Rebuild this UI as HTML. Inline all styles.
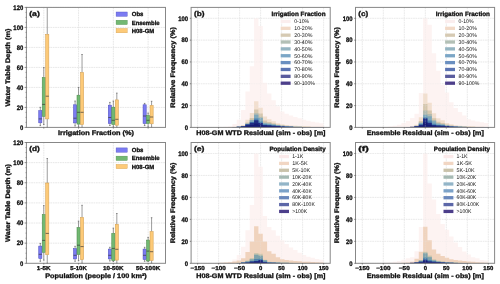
<!DOCTYPE html><html><head><meta charset="utf-8"><style>html,body{margin:0;padding:0;background:#fff;}svg{display:block;will-change:transform;text-rendering:geometricPrecision;}</style></head><body>
<svg width="500" height="284" viewBox="0 0 500 284" font-family='&quot;Liberation Sans&quot;, sans-serif'>
<rect width="500" height="284" fill="#fff"/>
<line x1="26.4" y1="107.4" x2="165.5" y2="107.4" stroke="#d6d6d6" stroke-width="0.6" stroke-dasharray="1.7 0.7"/>
<line x1="26.4" y1="87.4" x2="165.5" y2="87.4" stroke="#d6d6d6" stroke-width="0.6" stroke-dasharray="1.7 0.7"/>
<line x1="26.4" y1="67.4" x2="165.5" y2="67.4" stroke="#d6d6d6" stroke-width="0.6" stroke-dasharray="1.7 0.7"/>
<line x1="26.4" y1="47.4" x2="165.5" y2="47.4" stroke="#d6d6d6" stroke-width="0.6" stroke-dasharray="1.7 0.7"/>
<line x1="26.4" y1="27.4" x2="165.5" y2="27.4" stroke="#d6d6d6" stroke-width="0.6" stroke-dasharray="1.7 0.7"/>
<line x1="26.4" y1="7.4" x2="165.5" y2="7.4" stroke="#d6d6d6" stroke-width="0.6" stroke-dasharray="1.7 0.7"/>
<line x1="43.79" y1="7.4" x2="43.79" y2="127.4" stroke="#d6d6d6" stroke-width="0.6" stroke-dasharray="1.7 0.7"/>
<line x1="78.56" y1="7.4" x2="78.56" y2="127.4" stroke="#d6d6d6" stroke-width="0.6" stroke-dasharray="1.7 0.7"/>
<line x1="113.34" y1="7.4" x2="113.34" y2="127.4" stroke="#d6d6d6" stroke-width="0.6" stroke-dasharray="1.7 0.7"/>
<line x1="148.11" y1="7.4" x2="148.11" y2="127.4" stroke="#d6d6d6" stroke-width="0.6" stroke-dasharray="1.7 0.7"/>
<line x1="40.31" y1="110.7" x2="40.31" y2="107.3" stroke="#5a5a5a" stroke-width="0.6"/>
<line x1="40.31" y1="122.8" x2="40.31" y2="125.6" stroke="#5a5a5a" stroke-width="0.6"/>
<line x1="39.56" y1="107.3" x2="41.06" y2="107.3" stroke="#4a4a4a" stroke-width="0.6"/>
<line x1="39.56" y1="125.6" x2="41.06" y2="125.6" stroke="#4a4a4a" stroke-width="0.6"/>
<rect x="38.75" y="110.7" width="3.13" height="12.1" fill="#7b7bf2" stroke="#4f4fc0" stroke-width="0.55"/>
<line x1="38.75" y1="118.9" x2="41.87" y2="118.9" stroke="#3a3a3a" stroke-width="0.7"/>
<line x1="43.79" y1="77.6" x2="43.79" y2="67.6" stroke="#5a5a5a" stroke-width="0.6"/>
<line x1="43.79" y1="116.3" x2="43.79" y2="124.5" stroke="#5a5a5a" stroke-width="0.6"/>
<line x1="43.04" y1="67.6" x2="44.54" y2="67.6" stroke="#4a4a4a" stroke-width="0.6"/>
<line x1="43.04" y1="124.5" x2="44.54" y2="124.5" stroke="#4a4a4a" stroke-width="0.6"/>
<rect x="42.22" y="77.6" width="3.13" height="38.7" fill="#72b872" stroke="#4a8c4a" stroke-width="0.55"/>
<line x1="42.22" y1="104.4" x2="45.35" y2="104.4" stroke="#3a3a3a" stroke-width="0.7"/>
<line x1="47.26" y1="34.5" x2="47.26" y2="7.4" stroke="#5a5a5a" stroke-width="0.6"/>
<line x1="47.26" y1="118.9" x2="47.26" y2="127.4" stroke="#5a5a5a" stroke-width="0.6"/>
<line x1="46.51" y1="127.4" x2="48.01" y2="127.4" stroke="#4a4a4a" stroke-width="0.6"/>
<rect x="45.7" y="34.5" width="3.13" height="84.4" fill="#fdca78" stroke="#d4a050" stroke-width="0.55"/>
<line x1="45.7" y1="96.2" x2="48.83" y2="96.2" stroke="#3a3a3a" stroke-width="0.7"/>
<line x1="75.08" y1="104.8" x2="75.08" y2="101" stroke="#5a5a5a" stroke-width="0.6"/>
<line x1="75.08" y1="122.9" x2="75.08" y2="126" stroke="#5a5a5a" stroke-width="0.6"/>
<line x1="74.33" y1="101" x2="75.83" y2="101" stroke="#4a4a4a" stroke-width="0.6"/>
<line x1="74.33" y1="126" x2="75.83" y2="126" stroke="#4a4a4a" stroke-width="0.6"/>
<rect x="73.52" y="104.8" width="3.13" height="18.1" fill="#7b7bf2" stroke="#4f4fc0" stroke-width="0.55"/>
<line x1="73.52" y1="118.2" x2="76.65" y2="118.2" stroke="#3a3a3a" stroke-width="0.7"/>
<line x1="78.56" y1="95.2" x2="78.56" y2="87.4" stroke="#5a5a5a" stroke-width="0.6"/>
<line x1="78.56" y1="124.1" x2="78.56" y2="127" stroke="#5a5a5a" stroke-width="0.6"/>
<line x1="77.81" y1="87.4" x2="79.31" y2="87.4" stroke="#4a4a4a" stroke-width="0.6"/>
<line x1="77.81" y1="127" x2="79.31" y2="127" stroke="#4a4a4a" stroke-width="0.6"/>
<rect x="77" y="95.2" width="3.13" height="28.9" fill="#72b872" stroke="#4a8c4a" stroke-width="0.55"/>
<line x1="77" y1="112.3" x2="80.13" y2="112.3" stroke="#3a3a3a" stroke-width="0.7"/>
<line x1="82.04" y1="72.6" x2="82.04" y2="54.5" stroke="#5a5a5a" stroke-width="0.6"/>
<line x1="82.04" y1="124.6" x2="82.04" y2="127.4" stroke="#5a5a5a" stroke-width="0.6"/>
<line x1="81.29" y1="54.5" x2="82.79" y2="54.5" stroke="#4a4a4a" stroke-width="0.6"/>
<line x1="81.29" y1="127.4" x2="82.79" y2="127.4" stroke="#4a4a4a" stroke-width="0.6"/>
<rect x="80.48" y="72.6" width="3.13" height="52" fill="#fdca78" stroke="#d4a050" stroke-width="0.55"/>
<line x1="80.48" y1="112.3" x2="83.6" y2="112.3" stroke="#3a3a3a" stroke-width="0.7"/>
<line x1="109.86" y1="105.2" x2="109.86" y2="102.4" stroke="#5a5a5a" stroke-width="0.6"/>
<line x1="109.86" y1="123.5" x2="109.86" y2="125.5" stroke="#5a5a5a" stroke-width="0.6"/>
<line x1="109.11" y1="102.4" x2="110.61" y2="102.4" stroke="#4a4a4a" stroke-width="0.6"/>
<line x1="109.11" y1="125.5" x2="110.61" y2="125.5" stroke="#4a4a4a" stroke-width="0.6"/>
<rect x="108.3" y="105.2" width="3.13" height="18.3" fill="#7b7bf2" stroke="#4f4fc0" stroke-width="0.55"/>
<line x1="108.3" y1="117.5" x2="111.42" y2="117.5" stroke="#3a3a3a" stroke-width="0.7"/>
<line x1="113.34" y1="107.2" x2="113.34" y2="101" stroke="#5a5a5a" stroke-width="0.6"/>
<line x1="113.34" y1="124.5" x2="113.34" y2="127" stroke="#5a5a5a" stroke-width="0.6"/>
<line x1="112.59" y1="101" x2="114.09" y2="101" stroke="#4a4a4a" stroke-width="0.6"/>
<line x1="112.59" y1="127" x2="114.09" y2="127" stroke="#4a4a4a" stroke-width="0.6"/>
<rect x="111.77" y="107.2" width="3.13" height="17.3" fill="#72b872" stroke="#4a8c4a" stroke-width="0.55"/>
<line x1="111.77" y1="120.3" x2="114.9" y2="120.3" stroke="#3a3a3a" stroke-width="0.7"/>
<line x1="116.82" y1="99.9" x2="116.82" y2="93.1" stroke="#5a5a5a" stroke-width="0.6"/>
<line x1="116.82" y1="125.2" x2="116.82" y2="127.4" stroke="#5a5a5a" stroke-width="0.6"/>
<line x1="116.07" y1="93.1" x2="117.57" y2="93.1" stroke="#4a4a4a" stroke-width="0.6"/>
<line x1="116.07" y1="127.4" x2="117.57" y2="127.4" stroke="#4a4a4a" stroke-width="0.6"/>
<rect x="115.25" y="99.9" width="3.13" height="25.3" fill="#fdca78" stroke="#d4a050" stroke-width="0.55"/>
<line x1="115.25" y1="119.3" x2="118.38" y2="119.3" stroke="#3a3a3a" stroke-width="0.7"/>
<line x1="144.63" y1="104.8" x2="144.63" y2="103.4" stroke="#5a5a5a" stroke-width="0.6"/>
<line x1="144.63" y1="123.5" x2="144.63" y2="125.6" stroke="#5a5a5a" stroke-width="0.6"/>
<line x1="143.88" y1="103.4" x2="145.38" y2="103.4" stroke="#4a4a4a" stroke-width="0.6"/>
<line x1="143.88" y1="125.6" x2="145.38" y2="125.6" stroke="#4a4a4a" stroke-width="0.6"/>
<rect x="143.07" y="104.8" width="3.13" height="18.7" fill="#7b7bf2" stroke="#4f4fc0" stroke-width="0.55"/>
<line x1="143.07" y1="116" x2="146.2" y2="116" stroke="#3a3a3a" stroke-width="0.7"/>
<line x1="148.11" y1="115.4" x2="148.11" y2="113" stroke="#5a5a5a" stroke-width="0.6"/>
<line x1="148.11" y1="123.5" x2="148.11" y2="127" stroke="#5a5a5a" stroke-width="0.6"/>
<line x1="147.36" y1="113" x2="148.86" y2="113" stroke="#4a4a4a" stroke-width="0.6"/>
<line x1="147.36" y1="127" x2="148.86" y2="127" stroke="#4a4a4a" stroke-width="0.6"/>
<rect x="146.55" y="115.4" width="3.13" height="8.1" fill="#72b872" stroke="#4a8c4a" stroke-width="0.55"/>
<line x1="146.55" y1="120.3" x2="149.68" y2="120.3" stroke="#3a3a3a" stroke-width="0.7"/>
<line x1="151.59" y1="105.5" x2="151.59" y2="101.3" stroke="#5a5a5a" stroke-width="0.6"/>
<line x1="151.59" y1="123.8" x2="151.59" y2="127.4" stroke="#5a5a5a" stroke-width="0.6"/>
<line x1="150.84" y1="101.3" x2="152.34" y2="101.3" stroke="#4a4a4a" stroke-width="0.6"/>
<line x1="150.84" y1="127.4" x2="152.34" y2="127.4" stroke="#4a4a4a" stroke-width="0.6"/>
<rect x="150.03" y="105.5" width="3.13" height="18.3" fill="#fdca78" stroke="#d4a050" stroke-width="0.55"/>
<line x1="150.03" y1="117" x2="153.15" y2="117" stroke="#3a3a3a" stroke-width="0.7"/>
<rect x="26.4" y="7.4" width="139.1" height="120" fill="none" stroke="#878787" stroke-width="1"/>
<line x1="24.6" y1="127.4" x2="26.4" y2="127.4" stroke="#444" stroke-width="0.6"/>
<text x="23.2" y="129.7" font-size="6.5" font-weight="bold" text-anchor="end" fill="#111" stroke="#111" stroke-width="0.32" textLength="3.28" lengthAdjust="spacingAndGlyphs">0</text>
<line x1="25.4" y1="122.4" x2="26.4" y2="122.4" stroke="#444" stroke-width="0.4"/>
<line x1="25.4" y1="117.4" x2="26.4" y2="117.4" stroke="#444" stroke-width="0.4"/>
<line x1="25.4" y1="112.4" x2="26.4" y2="112.4" stroke="#444" stroke-width="0.4"/>
<line x1="24.6" y1="107.4" x2="26.4" y2="107.4" stroke="#444" stroke-width="0.6"/>
<text x="23.2" y="109.7" font-size="6.5" font-weight="bold" text-anchor="end" fill="#111" stroke="#111" stroke-width="0.32" textLength="6.56" lengthAdjust="spacingAndGlyphs">20</text>
<line x1="25.4" y1="102.4" x2="26.4" y2="102.4" stroke="#444" stroke-width="0.4"/>
<line x1="25.4" y1="97.4" x2="26.4" y2="97.4" stroke="#444" stroke-width="0.4"/>
<line x1="25.4" y1="92.4" x2="26.4" y2="92.4" stroke="#444" stroke-width="0.4"/>
<line x1="24.6" y1="87.4" x2="26.4" y2="87.4" stroke="#444" stroke-width="0.6"/>
<text x="23.2" y="89.7" font-size="6.5" font-weight="bold" text-anchor="end" fill="#111" stroke="#111" stroke-width="0.32" textLength="6.56" lengthAdjust="spacingAndGlyphs">40</text>
<line x1="25.4" y1="82.4" x2="26.4" y2="82.4" stroke="#444" stroke-width="0.4"/>
<line x1="25.4" y1="77.4" x2="26.4" y2="77.4" stroke="#444" stroke-width="0.4"/>
<line x1="25.4" y1="72.4" x2="26.4" y2="72.4" stroke="#444" stroke-width="0.4"/>
<line x1="24.6" y1="67.4" x2="26.4" y2="67.4" stroke="#444" stroke-width="0.6"/>
<text x="23.2" y="69.7" font-size="6.5" font-weight="bold" text-anchor="end" fill="#111" stroke="#111" stroke-width="0.32" textLength="6.56" lengthAdjust="spacingAndGlyphs">60</text>
<line x1="25.4" y1="62.4" x2="26.4" y2="62.4" stroke="#444" stroke-width="0.4"/>
<line x1="25.4" y1="57.4" x2="26.4" y2="57.4" stroke="#444" stroke-width="0.4"/>
<line x1="25.4" y1="52.4" x2="26.4" y2="52.4" stroke="#444" stroke-width="0.4"/>
<line x1="24.6" y1="47.4" x2="26.4" y2="47.4" stroke="#444" stroke-width="0.6"/>
<text x="23.2" y="49.7" font-size="6.5" font-weight="bold" text-anchor="end" fill="#111" stroke="#111" stroke-width="0.32" textLength="6.56" lengthAdjust="spacingAndGlyphs">80</text>
<line x1="25.4" y1="42.4" x2="26.4" y2="42.4" stroke="#444" stroke-width="0.4"/>
<line x1="25.4" y1="37.4" x2="26.4" y2="37.4" stroke="#444" stroke-width="0.4"/>
<line x1="25.4" y1="32.4" x2="26.4" y2="32.4" stroke="#444" stroke-width="0.4"/>
<line x1="24.6" y1="27.4" x2="26.4" y2="27.4" stroke="#444" stroke-width="0.6"/>
<text x="23.2" y="29.7" font-size="6.5" font-weight="bold" text-anchor="end" fill="#111" stroke="#111" stroke-width="0.32" textLength="9.84" lengthAdjust="spacingAndGlyphs">100</text>
<line x1="25.4" y1="22.4" x2="26.4" y2="22.4" stroke="#444" stroke-width="0.4"/>
<line x1="25.4" y1="17.4" x2="26.4" y2="17.4" stroke="#444" stroke-width="0.4"/>
<line x1="25.4" y1="12.4" x2="26.4" y2="12.4" stroke="#444" stroke-width="0.4"/>
<line x1="24.6" y1="7.4" x2="26.4" y2="7.4" stroke="#444" stroke-width="0.6"/>
<text x="23.2" y="9.7" font-size="6.5" font-weight="bold" text-anchor="end" fill="#111" stroke="#111" stroke-width="0.32" textLength="9.84" lengthAdjust="spacingAndGlyphs">120</text>
<line x1="43.79" y1="127.4" x2="43.79" y2="128.6" stroke="#444" stroke-width="0.6"/>
<line x1="78.56" y1="127.4" x2="78.56" y2="128.6" stroke="#444" stroke-width="0.6"/>
<line x1="113.34" y1="127.4" x2="113.34" y2="128.6" stroke="#444" stroke-width="0.6"/>
<line x1="148.11" y1="127.4" x2="148.11" y2="128.6" stroke="#444" stroke-width="0.6"/>
<text x="29.2" y="16" font-size="7" font-weight="bold" text-anchor="start" fill="#111" stroke="#111" stroke-width="0.32" textLength="10.6" lengthAdjust="spacingAndGlyphs">(a)</text>
<rect x="116.1" y="12" width="11.1" height="4.3" fill="#7b7bf2" stroke="#4f4fc0" stroke-width="0.4"/>
<text x="131.8" y="16.3" font-size="6" font-weight="bold" text-anchor="start" fill="#111" stroke="#111" stroke-width="0.32" textLength="11.6" lengthAdjust="spacingAndGlyphs">Obs</text>
<rect x="116.1" y="20.25" width="11.1" height="4.3" fill="#72b872" stroke="#4a8c4a" stroke-width="0.4"/>
<text x="131.8" y="24.55" font-size="6" font-weight="bold" text-anchor="start" fill="#111" stroke="#111" stroke-width="0.32" textLength="27.8" lengthAdjust="spacingAndGlyphs">Ensemble</text>
<rect x="116.1" y="28.5" width="11.1" height="4.3" fill="#fdca78" stroke="#d4a050" stroke-width="0.4"/>
<text x="131.8" y="32.8" font-size="6" font-weight="bold" text-anchor="start" fill="#111" stroke="#111" stroke-width="0.32" textLength="22.4" lengthAdjust="spacingAndGlyphs">H08-GM</text>
<text x="9.6" y="67.4" font-size="6.6" font-weight="bold" text-anchor="middle" fill="#111" stroke="#111" stroke-width="0.32" textLength="78" lengthAdjust="spacingAndGlyphs" transform="rotate(-90 9.6 67.4)">Water Table Depth (m)</text>
<text x="96" y="135" font-size="6.6" font-weight="bold" text-anchor="middle" fill="#111" stroke="#111" stroke-width="0.32" textLength="76" lengthAdjust="spacingAndGlyphs">Irrigation Fraction (%)</text>
<line x1="26.4" y1="243.17" x2="165.5" y2="243.17" stroke="#d6d6d6" stroke-width="0.6" stroke-dasharray="1.7 0.7"/>
<line x1="26.4" y1="223.03" x2="165.5" y2="223.03" stroke="#d6d6d6" stroke-width="0.6" stroke-dasharray="1.7 0.7"/>
<line x1="26.4" y1="202.9" x2="165.5" y2="202.9" stroke="#d6d6d6" stroke-width="0.6" stroke-dasharray="1.7 0.7"/>
<line x1="26.4" y1="182.77" x2="165.5" y2="182.77" stroke="#d6d6d6" stroke-width="0.6" stroke-dasharray="1.7 0.7"/>
<line x1="26.4" y1="162.63" x2="165.5" y2="162.63" stroke="#d6d6d6" stroke-width="0.6" stroke-dasharray="1.7 0.7"/>
<line x1="26.4" y1="142.5" x2="165.5" y2="142.5" stroke="#d6d6d6" stroke-width="0.6" stroke-dasharray="1.7 0.7"/>
<line x1="43.79" y1="142.5" x2="43.79" y2="263.3" stroke="#d6d6d6" stroke-width="0.6" stroke-dasharray="1.7 0.7"/>
<line x1="78.56" y1="142.5" x2="78.56" y2="263.3" stroke="#d6d6d6" stroke-width="0.6" stroke-dasharray="1.7 0.7"/>
<line x1="113.34" y1="142.5" x2="113.34" y2="263.3" stroke="#d6d6d6" stroke-width="0.6" stroke-dasharray="1.7 0.7"/>
<line x1="148.11" y1="142.5" x2="148.11" y2="263.3" stroke="#d6d6d6" stroke-width="0.6" stroke-dasharray="1.7 0.7"/>
<line x1="40.31" y1="246.1" x2="40.31" y2="243.4" stroke="#5a5a5a" stroke-width="0.6"/>
<line x1="40.31" y1="258.5" x2="40.31" y2="261.3" stroke="#5a5a5a" stroke-width="0.6"/>
<line x1="39.56" y1="243.4" x2="41.06" y2="243.4" stroke="#4a4a4a" stroke-width="0.6"/>
<line x1="39.56" y1="261.3" x2="41.06" y2="261.3" stroke="#4a4a4a" stroke-width="0.6"/>
<rect x="38.75" y="246.1" width="3.13" height="12.4" fill="#7b7bf2" stroke="#4f4fc0" stroke-width="0.55"/>
<line x1="38.75" y1="254.3" x2="41.87" y2="254.3" stroke="#3a3a3a" stroke-width="0.7"/>
<line x1="43.79" y1="214.5" x2="43.79" y2="205.6" stroke="#5a5a5a" stroke-width="0.6"/>
<line x1="43.79" y1="252.3" x2="43.79" y2="260.1" stroke="#5a5a5a" stroke-width="0.6"/>
<line x1="43.04" y1="205.6" x2="44.54" y2="205.6" stroke="#4a4a4a" stroke-width="0.6"/>
<line x1="43.04" y1="260.1" x2="44.54" y2="260.1" stroke="#4a4a4a" stroke-width="0.6"/>
<rect x="42.22" y="214.5" width="3.13" height="37.8" fill="#72b872" stroke="#4a8c4a" stroke-width="0.55"/>
<line x1="42.22" y1="240.4" x2="45.35" y2="240.4" stroke="#3a3a3a" stroke-width="0.7"/>
<line x1="47.26" y1="183" x2="47.26" y2="158.5" stroke="#5a5a5a" stroke-width="0.6"/>
<line x1="47.26" y1="254.7" x2="47.26" y2="263.3" stroke="#5a5a5a" stroke-width="0.6"/>
<line x1="46.51" y1="158.5" x2="48.01" y2="158.5" stroke="#4a4a4a" stroke-width="0.6"/>
<line x1="46.51" y1="263.3" x2="48.01" y2="263.3" stroke="#4a4a4a" stroke-width="0.6"/>
<rect x="45.7" y="183" width="3.13" height="71.7" fill="#fdca78" stroke="#d4a050" stroke-width="0.55"/>
<line x1="45.7" y1="233.4" x2="48.83" y2="233.4" stroke="#3a3a3a" stroke-width="0.7"/>
<line x1="75.08" y1="248.7" x2="75.08" y2="246.3" stroke="#5a5a5a" stroke-width="0.6"/>
<line x1="75.08" y1="258.9" x2="75.08" y2="261.3" stroke="#5a5a5a" stroke-width="0.6"/>
<line x1="74.33" y1="246.3" x2="75.83" y2="246.3" stroke="#4a4a4a" stroke-width="0.6"/>
<line x1="74.33" y1="261.3" x2="75.83" y2="261.3" stroke="#4a4a4a" stroke-width="0.6"/>
<rect x="73.52" y="248.7" width="3.13" height="10.2" fill="#7b7bf2" stroke="#4f4fc0" stroke-width="0.55"/>
<line x1="73.52" y1="255.3" x2="76.65" y2="255.3" stroke="#3a3a3a" stroke-width="0.7"/>
<line x1="78.56" y1="227.6" x2="78.56" y2="221.2" stroke="#5a5a5a" stroke-width="0.6"/>
<line x1="78.56" y1="254.5" x2="78.56" y2="260.7" stroke="#5a5a5a" stroke-width="0.6"/>
<line x1="77.81" y1="221.2" x2="79.31" y2="221.2" stroke="#4a4a4a" stroke-width="0.6"/>
<line x1="77.81" y1="260.7" x2="79.31" y2="260.7" stroke="#4a4a4a" stroke-width="0.6"/>
<rect x="77" y="227.6" width="3.13" height="26.9" fill="#72b872" stroke="#4a8c4a" stroke-width="0.55"/>
<line x1="77" y1="245.2" x2="80.13" y2="245.2" stroke="#3a3a3a" stroke-width="0.7"/>
<line x1="82.04" y1="217.5" x2="82.04" y2="205.3" stroke="#5a5a5a" stroke-width="0.6"/>
<line x1="82.04" y1="259.7" x2="82.04" y2="263.3" stroke="#5a5a5a" stroke-width="0.6"/>
<line x1="81.29" y1="205.3" x2="82.79" y2="205.3" stroke="#4a4a4a" stroke-width="0.6"/>
<line x1="81.29" y1="263.3" x2="82.79" y2="263.3" stroke="#4a4a4a" stroke-width="0.6"/>
<rect x="80.48" y="217.5" width="3.13" height="42.2" fill="#fdca78" stroke="#d4a050" stroke-width="0.55"/>
<line x1="80.48" y1="246.6" x2="83.6" y2="246.6" stroke="#3a3a3a" stroke-width="0.7"/>
<line x1="109.86" y1="249.1" x2="109.86" y2="247.3" stroke="#5a5a5a" stroke-width="0.6"/>
<line x1="109.86" y1="258.9" x2="109.86" y2="261" stroke="#5a5a5a" stroke-width="0.6"/>
<line x1="109.11" y1="247.3" x2="110.61" y2="247.3" stroke="#4a4a4a" stroke-width="0.6"/>
<line x1="109.11" y1="261" x2="110.61" y2="261" stroke="#4a4a4a" stroke-width="0.6"/>
<rect x="108.3" y="249.1" width="3.13" height="9.8" fill="#7b7bf2" stroke="#4f4fc0" stroke-width="0.55"/>
<line x1="108.3" y1="255.3" x2="111.42" y2="255.3" stroke="#3a3a3a" stroke-width="0.7"/>
<line x1="113.34" y1="233.4" x2="113.34" y2="228.2" stroke="#5a5a5a" stroke-width="0.6"/>
<line x1="113.34" y1="260.7" x2="113.34" y2="261.5" stroke="#5a5a5a" stroke-width="0.6"/>
<line x1="112.59" y1="228.2" x2="114.09" y2="228.2" stroke="#4a4a4a" stroke-width="0.6"/>
<line x1="112.59" y1="261.5" x2="114.09" y2="261.5" stroke="#4a4a4a" stroke-width="0.6"/>
<rect x="111.77" y="233.4" width="3.13" height="27.3" fill="#72b872" stroke="#4a8c4a" stroke-width="0.55"/>
<line x1="111.77" y1="248.4" x2="114.9" y2="248.4" stroke="#3a3a3a" stroke-width="0.7"/>
<line x1="116.82" y1="224.3" x2="116.82" y2="213.5" stroke="#5a5a5a" stroke-width="0.6"/>
<line x1="116.82" y1="260.1" x2="116.82" y2="263.3" stroke="#5a5a5a" stroke-width="0.6"/>
<line x1="116.07" y1="213.5" x2="117.57" y2="213.5" stroke="#4a4a4a" stroke-width="0.6"/>
<line x1="116.07" y1="263.3" x2="117.57" y2="263.3" stroke="#4a4a4a" stroke-width="0.6"/>
<rect x="115.25" y="224.3" width="3.13" height="35.8" fill="#fdca78" stroke="#d4a050" stroke-width="0.55"/>
<line x1="115.25" y1="249.3" x2="118.38" y2="249.3" stroke="#3a3a3a" stroke-width="0.7"/>
<line x1="144.63" y1="249.1" x2="144.63" y2="247.3" stroke="#5a5a5a" stroke-width="0.6"/>
<line x1="144.63" y1="259.5" x2="144.63" y2="261.3" stroke="#5a5a5a" stroke-width="0.6"/>
<line x1="143.88" y1="247.3" x2="145.38" y2="247.3" stroke="#4a4a4a" stroke-width="0.6"/>
<line x1="143.88" y1="261.3" x2="145.38" y2="261.3" stroke="#4a4a4a" stroke-width="0.6"/>
<rect x="143.07" y="249.1" width="3.13" height="10.4" fill="#7b7bf2" stroke="#4f4fc0" stroke-width="0.55"/>
<line x1="143.07" y1="255.3" x2="146.2" y2="255.3" stroke="#3a3a3a" stroke-width="0.7"/>
<line x1="148.11" y1="240.1" x2="148.11" y2="237.4" stroke="#5a5a5a" stroke-width="0.6"/>
<line x1="148.11" y1="261" x2="148.11" y2="261.6" stroke="#5a5a5a" stroke-width="0.6"/>
<line x1="147.36" y1="237.4" x2="148.86" y2="237.4" stroke="#4a4a4a" stroke-width="0.6"/>
<line x1="147.36" y1="261.6" x2="148.86" y2="261.6" stroke="#4a4a4a" stroke-width="0.6"/>
<rect x="146.55" y="240.1" width="3.13" height="20.9" fill="#72b872" stroke="#4a8c4a" stroke-width="0.55"/>
<line x1="146.55" y1="251.1" x2="149.68" y2="251.1" stroke="#3a3a3a" stroke-width="0.7"/>
<line x1="151.59" y1="231.6" x2="151.59" y2="217.7" stroke="#5a5a5a" stroke-width="0.6"/>
<line x1="151.59" y1="260.5" x2="151.59" y2="263.3" stroke="#5a5a5a" stroke-width="0.6"/>
<line x1="150.84" y1="217.7" x2="152.34" y2="217.7" stroke="#4a4a4a" stroke-width="0.6"/>
<line x1="150.84" y1="263.3" x2="152.34" y2="263.3" stroke="#4a4a4a" stroke-width="0.6"/>
<rect x="150.03" y="231.6" width="3.13" height="28.9" fill="#fdca78" stroke="#d4a050" stroke-width="0.55"/>
<line x1="150.03" y1="251.7" x2="153.15" y2="251.7" stroke="#3a3a3a" stroke-width="0.7"/>
<rect x="26.4" y="142.5" width="139.1" height="120.8" fill="none" stroke="#878787" stroke-width="1"/>
<line x1="24.6" y1="263.3" x2="26.4" y2="263.3" stroke="#444" stroke-width="0.6"/>
<text x="23.2" y="265.6" font-size="6.5" font-weight="bold" text-anchor="end" fill="#111" stroke="#111" stroke-width="0.32" textLength="3.28" lengthAdjust="spacingAndGlyphs">0</text>
<line x1="25.4" y1="258.27" x2="26.4" y2="258.27" stroke="#444" stroke-width="0.4"/>
<line x1="25.4" y1="253.23" x2="26.4" y2="253.23" stroke="#444" stroke-width="0.4"/>
<line x1="25.4" y1="248.2" x2="26.4" y2="248.2" stroke="#444" stroke-width="0.4"/>
<line x1="24.6" y1="243.17" x2="26.4" y2="243.17" stroke="#444" stroke-width="0.6"/>
<text x="23.2" y="245.47" font-size="6.5" font-weight="bold" text-anchor="end" fill="#111" stroke="#111" stroke-width="0.32" textLength="6.56" lengthAdjust="spacingAndGlyphs">20</text>
<line x1="25.4" y1="238.13" x2="26.4" y2="238.13" stroke="#444" stroke-width="0.4"/>
<line x1="25.4" y1="233.1" x2="26.4" y2="233.1" stroke="#444" stroke-width="0.4"/>
<line x1="25.4" y1="228.07" x2="26.4" y2="228.07" stroke="#444" stroke-width="0.4"/>
<line x1="24.6" y1="223.03" x2="26.4" y2="223.03" stroke="#444" stroke-width="0.6"/>
<text x="23.2" y="225.33" font-size="6.5" font-weight="bold" text-anchor="end" fill="#111" stroke="#111" stroke-width="0.32" textLength="6.56" lengthAdjust="spacingAndGlyphs">40</text>
<line x1="25.4" y1="218" x2="26.4" y2="218" stroke="#444" stroke-width="0.4"/>
<line x1="25.4" y1="212.97" x2="26.4" y2="212.97" stroke="#444" stroke-width="0.4"/>
<line x1="25.4" y1="207.93" x2="26.4" y2="207.93" stroke="#444" stroke-width="0.4"/>
<line x1="24.6" y1="202.9" x2="26.4" y2="202.9" stroke="#444" stroke-width="0.6"/>
<text x="23.2" y="205.2" font-size="6.5" font-weight="bold" text-anchor="end" fill="#111" stroke="#111" stroke-width="0.32" textLength="6.56" lengthAdjust="spacingAndGlyphs">60</text>
<line x1="25.4" y1="197.87" x2="26.4" y2="197.87" stroke="#444" stroke-width="0.4"/>
<line x1="25.4" y1="192.83" x2="26.4" y2="192.83" stroke="#444" stroke-width="0.4"/>
<line x1="25.4" y1="187.8" x2="26.4" y2="187.8" stroke="#444" stroke-width="0.4"/>
<line x1="24.6" y1="182.77" x2="26.4" y2="182.77" stroke="#444" stroke-width="0.6"/>
<text x="23.2" y="185.07" font-size="6.5" font-weight="bold" text-anchor="end" fill="#111" stroke="#111" stroke-width="0.32" textLength="6.56" lengthAdjust="spacingAndGlyphs">80</text>
<line x1="25.4" y1="177.73" x2="26.4" y2="177.73" stroke="#444" stroke-width="0.4"/>
<line x1="25.4" y1="172.7" x2="26.4" y2="172.7" stroke="#444" stroke-width="0.4"/>
<line x1="25.4" y1="167.67" x2="26.4" y2="167.67" stroke="#444" stroke-width="0.4"/>
<line x1="24.6" y1="162.63" x2="26.4" y2="162.63" stroke="#444" stroke-width="0.6"/>
<text x="23.2" y="164.93" font-size="6.5" font-weight="bold" text-anchor="end" fill="#111" stroke="#111" stroke-width="0.32" textLength="9.84" lengthAdjust="spacingAndGlyphs">100</text>
<line x1="25.4" y1="157.6" x2="26.4" y2="157.6" stroke="#444" stroke-width="0.4"/>
<line x1="25.4" y1="152.57" x2="26.4" y2="152.57" stroke="#444" stroke-width="0.4"/>
<line x1="25.4" y1="147.53" x2="26.4" y2="147.53" stroke="#444" stroke-width="0.4"/>
<line x1="24.6" y1="142.5" x2="26.4" y2="142.5" stroke="#444" stroke-width="0.6"/>
<text x="23.2" y="144.8" font-size="6.5" font-weight="bold" text-anchor="end" fill="#111" stroke="#111" stroke-width="0.32" textLength="9.84" lengthAdjust="spacingAndGlyphs">120</text>
<line x1="43.79" y1="263.3" x2="43.79" y2="264.5" stroke="#444" stroke-width="0.6"/>
<line x1="78.56" y1="263.3" x2="78.56" y2="264.5" stroke="#444" stroke-width="0.6"/>
<line x1="113.34" y1="263.3" x2="113.34" y2="264.5" stroke="#444" stroke-width="0.6"/>
<line x1="148.11" y1="263.3" x2="148.11" y2="264.5" stroke="#444" stroke-width="0.6"/>
<text x="29.2" y="151.1" font-size="7" font-weight="bold" text-anchor="start" fill="#111" stroke="#111" stroke-width="0.32" textLength="10.6" lengthAdjust="spacingAndGlyphs">(d)</text>
<rect x="116.1" y="147.9" width="11.1" height="4.3" fill="#7b7bf2" stroke="#4f4fc0" stroke-width="0.4"/>
<text x="131.8" y="152.2" font-size="6" font-weight="bold" text-anchor="start" fill="#111" stroke="#111" stroke-width="0.32" textLength="11.6" lengthAdjust="spacingAndGlyphs">Obs</text>
<rect x="116.1" y="156.15" width="11.1" height="4.3" fill="#72b872" stroke="#4a8c4a" stroke-width="0.4"/>
<text x="131.8" y="160.45" font-size="6" font-weight="bold" text-anchor="start" fill="#111" stroke="#111" stroke-width="0.32" textLength="27.8" lengthAdjust="spacingAndGlyphs">Ensemble</text>
<rect x="116.1" y="164.4" width="11.1" height="4.3" fill="#fdca78" stroke="#d4a050" stroke-width="0.4"/>
<text x="131.8" y="168.7" font-size="6" font-weight="bold" text-anchor="start" fill="#111" stroke="#111" stroke-width="0.32" textLength="22.4" lengthAdjust="spacingAndGlyphs">H08-GM</text>
<text x="9.6" y="202.9" font-size="6.6" font-weight="bold" text-anchor="middle" fill="#111" stroke="#111" stroke-width="0.32" textLength="78" lengthAdjust="spacingAndGlyphs" transform="rotate(-90 9.6 202.9)">Water Table Depth (m)</text>
<text x="96" y="277.8" font-size="6.6" font-weight="bold" text-anchor="middle" fill="#111" stroke="#111" stroke-width="0.32" textLength="101.5" lengthAdjust="spacingAndGlyphs">Population (people / 100 km²)</text>
<text x="43.79" y="270.3" font-size="5.7" font-weight="bold" text-anchor="middle" fill="#111" stroke="#111" stroke-width="0.32" textLength="13.8" lengthAdjust="spacingAndGlyphs">1-5K</text>
<text x="78.56" y="270.3" font-size="5.7" font-weight="bold" text-anchor="middle" fill="#111" stroke="#111" stroke-width="0.32" textLength="16.4" lengthAdjust="spacingAndGlyphs">5-10K</text>
<text x="113.34" y="270.3" font-size="5.7" font-weight="bold" text-anchor="middle" fill="#111" stroke="#111" stroke-width="0.32" textLength="20.6" lengthAdjust="spacingAndGlyphs">10-50K</text>
<text x="148.11" y="270.3" font-size="5.7" font-weight="bold" text-anchor="middle" fill="#111" stroke="#111" stroke-width="0.32" textLength="24.2" lengthAdjust="spacingAndGlyphs">50-100K</text>
<line x1="191.1" y1="127.4" x2="330.2" y2="127.4" stroke="#e2e2e2" stroke-width="0.6" stroke-dasharray="1.7 0.7"/>
<line x1="191.1" y1="105.58" x2="330.2" y2="105.58" stroke="#e2e2e2" stroke-width="0.6" stroke-dasharray="1.7 0.7"/>
<line x1="191.1" y1="83.76" x2="330.2" y2="83.76" stroke="#e2e2e2" stroke-width="0.6" stroke-dasharray="1.7 0.7"/>
<line x1="191.1" y1="61.95" x2="330.2" y2="61.95" stroke="#e2e2e2" stroke-width="0.6" stroke-dasharray="1.7 0.7"/>
<line x1="191.1" y1="40.13" x2="330.2" y2="40.13" stroke="#e2e2e2" stroke-width="0.6" stroke-dasharray="1.7 0.7"/>
<line x1="191.1" y1="18.31" x2="330.2" y2="18.31" stroke="#e2e2e2" stroke-width="0.6" stroke-dasharray="1.7 0.7"/>
<line x1="197.6" y1="7.4" x2="197.6" y2="127.4" stroke="#e2e2e2" stroke-width="0.6" stroke-dasharray="1.7 0.7"/>
<line x1="218.6" y1="7.4" x2="218.6" y2="127.4" stroke="#e2e2e2" stroke-width="0.6" stroke-dasharray="1.7 0.7"/>
<line x1="239.6" y1="7.4" x2="239.6" y2="127.4" stroke="#e2e2e2" stroke-width="0.6" stroke-dasharray="1.7 0.7"/>
<line x1="260.6" y1="7.4" x2="260.6" y2="127.4" stroke="#e2e2e2" stroke-width="0.6" stroke-dasharray="1.7 0.7"/>
<line x1="281.6" y1="7.4" x2="281.6" y2="127.4" stroke="#e2e2e2" stroke-width="0.6" stroke-dasharray="1.7 0.7"/>
<line x1="302.6" y1="7.4" x2="302.6" y2="127.4" stroke="#e2e2e2" stroke-width="0.6" stroke-dasharray="1.7 0.7"/>
<line x1="323.6" y1="7.4" x2="323.6" y2="127.4" stroke="#e2e2e2" stroke-width="0.6" stroke-dasharray="1.7 0.7"/>
<path d="M214.98 127.4H219.32V127.18H214.98ZM219.32 127.4H223.67V127.07H219.32ZM223.67 127.4H228.01V126.85H223.67ZM228.01 127.4H232.36V126.2H228.01ZM232.36 127.4H236.7V123.91H232.36ZM236.7 127.4H241.05V119.65H236.7ZM241.05 127.4H245.39V109.95H241.05ZM245.39 127.4H249.74V91.4H245.39ZM249.74 127.4H254.08V66.31H249.74ZM254.08 127.4H258.43V18.31H254.08ZM258.43 127.4H262.77V25.95H258.43ZM262.77 127.4H267.12V82.67H262.77ZM267.12 127.4H271.46V93.58H267.12ZM271.46 127.4H275.81V100.13H271.46ZM275.81 127.4H280.15V106.13H275.81ZM280.15 127.4H284.5V111.58H280.15ZM284.5 127.4H288.84V113.76H284.5ZM288.84 127.4H293.19V115.4H288.84ZM293.19 127.4H297.53V117.04H293.19ZM297.53 127.4H301.88V118.35H297.53ZM301.88 127.4H306.22V119.76H301.88ZM306.22 127.4H310.57V120.85H306.22ZM310.57 127.4H314.91V121.73H310.57ZM314.91 127.4H319.26V122.6H314.91ZM319.26 127.4H323.6V123.25H319.26Z" fill="#fdf3f2"/>
<path d="M228.01 127.4H232.36V127.07H228.01ZM232.36 127.4H236.7V126.75H232.36ZM236.7 127.4H241.05V126.2H236.7ZM241.05 127.4H245.39V124.89H241.05ZM245.39 127.4H249.74V119.87H245.39ZM249.74 127.4H254.08V113H249.74ZM254.08 127.4H258.43V101.22H254.08ZM258.43 127.4H262.77V107.76H258.43ZM262.77 127.4H267.12V116.49H262.77ZM267.12 127.4H271.46V119.22H267.12ZM271.46 127.4H275.81V121.18H271.46ZM275.81 127.4H280.15V123.15H275.81ZM280.15 127.4H284.5V124.13H280.15ZM284.5 127.4H288.84V124.89H284.5ZM288.84 127.4H293.19V125.44H288.84ZM293.19 127.4H297.53V125.87H293.19ZM297.53 127.4H301.88V126.09H297.53ZM301.88 127.4H306.22V126.31H301.88ZM306.22 127.4H310.57V126.53H306.22ZM310.57 127.4H314.91V126.64H310.57ZM314.91 127.4H319.26V126.75H314.91ZM319.26 127.4H323.6V126.85H319.26Z" fill="#f2dfcf"/>
<path d="M236.7 127.4H241.05V126.64H236.7ZM241.05 127.4H245.39V125.65H241.05ZM245.39 127.4H249.74V122.49H245.39ZM249.74 127.4H254.08V118.02H249.74ZM254.08 127.4H258.43V109.51H254.08ZM258.43 127.4H262.77V113.55H258.43ZM262.77 127.4H267.12V120.42H262.77ZM267.12 127.4H271.46V122.05H267.12ZM271.46 127.4H275.81V123.15H271.46ZM275.81 127.4H280.15V124.56H275.81ZM280.15 127.4H284.5V125.33H280.15ZM284.5 127.4H288.84V125.76H284.5ZM288.84 127.4H293.19V126.2H288.84ZM293.19 127.4H297.53V126.42H293.19ZM297.53 127.4H301.88V126.64H297.53ZM301.88 127.4H306.22V126.75H301.88ZM306.22 127.4H310.57V126.85H306.22ZM310.57 127.4H314.91V126.96H310.57ZM314.91 127.4H319.26V127.07H314.91ZM319.26 127.4H323.6V127.07H319.26Z" fill="#d5c6ad"/>
<path d="M236.7 127.4H241.05V126.79H236.7ZM241.05 127.4H245.39V125.89H241.05ZM245.39 127.4H249.74V123.43H245.39ZM249.74 127.4H254.08V119.67H249.74ZM254.08 127.4H258.43V113.2H254.08ZM258.43 127.4H262.77V116.77H258.43ZM262.77 127.4H267.12V122.38H262.77ZM267.12 127.4H271.46V123.23H267.12ZM271.46 127.4H275.81V124.09H271.46ZM275.81 127.4H280.15V125.11H275.81ZM280.15 127.4H284.5V125.72H280.15ZM284.5 127.4H288.84V126.08H284.5ZM288.84 127.4H293.19V126.44H288.84ZM293.19 127.4H297.53V126.65H293.19ZM297.53 127.4H301.88V126.79H297.53ZM301.88 127.4H306.22V126.9H301.88ZM306.22 127.4H310.57V127.01H306.22ZM310.57 127.4H314.91V127.04H310.57ZM314.91 127.4H319.26V127.15H314.91ZM319.26 127.4H323.6V127.15H319.26Z" fill="#b0bab0"/>
<path d="M236.7 127.4H241.05V126.85H236.7ZM241.05 127.4H245.39V125.98H241.05ZM245.39 127.4H249.74V123.8H245.39ZM249.74 127.4H254.08V120.31H249.74ZM254.08 127.4H258.43V114.64H254.08ZM258.43 127.4H262.77V118.02H258.43ZM262.77 127.4H267.12V123.15H262.77ZM267.12 127.4H271.46V123.69H267.12ZM271.46 127.4H275.81V124.45H271.46ZM275.81 127.4H280.15V125.33H275.81ZM280.15 127.4H284.5V125.87H280.15ZM284.5 127.4H288.84V126.2H284.5ZM288.84 127.4H293.19V126.53H288.84ZM293.19 127.4H297.53V126.75H293.19ZM297.53 127.4H301.88V126.85H297.53ZM301.88 127.4H306.22V126.96H301.88ZM306.22 127.4H310.57V127.07H306.22ZM310.57 127.4H314.91V127.07H310.57ZM314.91 127.4H319.26V127.18H314.91ZM319.26 127.4H323.6V127.18H319.26Z" fill="#7fa8ba"/>
<path d="M232.36 127.4H236.7V127.25H232.36ZM236.7 127.4H241.05V126.85H236.7ZM241.05 127.4H245.39V126.13H241.05ZM245.39 127.4H249.74V124.32H245.39ZM249.74 127.4H254.08V122.02H249.74ZM254.08 127.4H258.43V118.49H254.08ZM258.43 127.4H262.77V121.43H258.43ZM262.77 127.4H267.12V124.33H262.77ZM267.12 127.4H271.46V124.73H267.12ZM271.46 127.4H275.81V125.27H271.46ZM275.81 127.4H280.15V125.85H275.81ZM280.15 127.4H284.5V126.24H280.15ZM284.5 127.4H288.84V126.5H284.5ZM288.84 127.4H293.19V126.75H288.84ZM293.19 127.4H297.53V126.89H293.19ZM297.53 127.4H301.88V127H297.53ZM301.88 127.4H306.22V127.04H301.88ZM306.22 127.4H310.57V127.15H306.22ZM310.57 127.4H314.91V127.15H310.57ZM314.91 127.4H319.26V127.26H314.91ZM319.26 127.4H323.6V127.26H319.26Z" fill="#4a80b0"/>
<path d="M232.36 127.4H236.7V127.18H232.36ZM236.7 127.4H241.05V126.85H236.7ZM241.05 127.4H245.39V126.2H241.05ZM245.39 127.4H249.74V124.56H245.39ZM249.74 127.4H254.08V122.82H249.74ZM254.08 127.4H258.43V120.31H254.08ZM258.43 127.4H262.77V123.04H258.43ZM262.77 127.4H267.12V124.89H262.77ZM267.12 127.4H271.46V125.22H267.12ZM271.46 127.4H275.81V125.65H271.46ZM275.81 127.4H280.15V126.09H275.81ZM280.15 127.4H284.5V126.42H280.15ZM284.5 127.4H288.84V126.64H284.5ZM288.84 127.4H293.19V126.85H288.84ZM293.19 127.4H297.53V126.96H293.19ZM297.53 127.4H301.88V127.07H297.53ZM301.88 127.4H306.22V127.07H301.88ZM306.22 127.4H310.57V127.18H306.22ZM310.57 127.4H314.91V127.18H310.57ZM314.91 127.4H319.26V127.29H314.91ZM319.26 127.4H323.6V127.29H319.26Z" fill="#1f2c84"/>
<path d="M232.36 127.4H236.7V127.28H232.36ZM236.7 127.4H241.05V127.1H236.7ZM241.05 127.4H245.39V126.74H241.05ZM245.39 127.4H249.74V125.84H245.39ZM249.74 127.4H254.08V124.88H249.74ZM254.08 127.4H258.43V123.5H254.08ZM258.43 127.4H262.77V125H258.43ZM262.77 127.4H267.12V126.02H262.77ZM267.12 127.4H271.46V126.2H267.12ZM271.46 127.4H275.81V126.44H271.46ZM275.81 127.4H280.15V126.68H275.81ZM280.15 127.4H284.5V126.86H280.15ZM284.5 127.4H288.84V126.98H284.5ZM288.84 127.4H293.19V127.1H288.84ZM293.19 127.4H297.53V127.16H293.19ZM297.53 127.4H301.88V127.22H297.53ZM301.88 127.4H306.22V127.22H301.88ZM306.22 127.4H310.57V127.28H306.22ZM310.57 127.4H314.91V127.28H310.57ZM314.91 127.4H319.26V127.34H314.91ZM319.26 127.4H323.6V127.34H319.26Z" fill="#151a74"/>
<g opacity="0.45">
<line x1="191.1" y1="105.58" x2="330.2" y2="105.58" stroke="#e2e2e2" stroke-width="0.6" stroke-dasharray="1.7 0.7"/>
<line x1="191.1" y1="83.76" x2="330.2" y2="83.76" stroke="#e2e2e2" stroke-width="0.6" stroke-dasharray="1.7 0.7"/>
<line x1="191.1" y1="61.95" x2="330.2" y2="61.95" stroke="#e2e2e2" stroke-width="0.6" stroke-dasharray="1.7 0.7"/>
<line x1="191.1" y1="40.13" x2="330.2" y2="40.13" stroke="#e2e2e2" stroke-width="0.6" stroke-dasharray="1.7 0.7"/>
<line x1="191.1" y1="18.31" x2="330.2" y2="18.31" stroke="#e2e2e2" stroke-width="0.6" stroke-dasharray="1.7 0.7"/>
<line x1="197.6" y1="7.4" x2="197.6" y2="127.4" stroke="#e2e2e2" stroke-width="0.6" stroke-dasharray="1.7 0.7"/>
<line x1="218.6" y1="7.4" x2="218.6" y2="127.4" stroke="#e2e2e2" stroke-width="0.6" stroke-dasharray="1.7 0.7"/>
<line x1="239.6" y1="7.4" x2="239.6" y2="127.4" stroke="#e2e2e2" stroke-width="0.6" stroke-dasharray="1.7 0.7"/>
<line x1="260.6" y1="7.4" x2="260.6" y2="127.4" stroke="#e2e2e2" stroke-width="0.6" stroke-dasharray="1.7 0.7"/>
<line x1="281.6" y1="7.4" x2="281.6" y2="127.4" stroke="#e2e2e2" stroke-width="0.6" stroke-dasharray="1.7 0.7"/>
<line x1="302.6" y1="7.4" x2="302.6" y2="127.4" stroke="#e2e2e2" stroke-width="0.6" stroke-dasharray="1.7 0.7"/>
<line x1="323.6" y1="7.4" x2="323.6" y2="127.4" stroke="#e2e2e2" stroke-width="0.6" stroke-dasharray="1.7 0.7"/>
</g>
<rect x="191.1" y="7.4" width="139.1" height="120" fill="none" stroke="#878787" stroke-width="1"/>
<line x1="189.8" y1="127.4" x2="191.1" y2="127.4" stroke="#444" stroke-width="0.6"/>
<text x="188.1" y="129.7" font-size="6.5" font-weight="bold" text-anchor="end" fill="#111" stroke="#111" stroke-width="0.32" textLength="3.28" lengthAdjust="spacingAndGlyphs">0</text>
<line x1="189.8" y1="105.58" x2="191.1" y2="105.58" stroke="#444" stroke-width="0.6"/>
<text x="188.1" y="107.88" font-size="6.5" font-weight="bold" text-anchor="end" fill="#111" stroke="#111" stroke-width="0.32" textLength="6.56" lengthAdjust="spacingAndGlyphs">20</text>
<line x1="189.8" y1="83.76" x2="191.1" y2="83.76" stroke="#444" stroke-width="0.6"/>
<text x="188.1" y="86.06" font-size="6.5" font-weight="bold" text-anchor="end" fill="#111" stroke="#111" stroke-width="0.32" textLength="6.56" lengthAdjust="spacingAndGlyphs">40</text>
<line x1="189.8" y1="61.95" x2="191.1" y2="61.95" stroke="#444" stroke-width="0.6"/>
<text x="188.1" y="64.25" font-size="6.5" font-weight="bold" text-anchor="end" fill="#111" stroke="#111" stroke-width="0.32" textLength="6.56" lengthAdjust="spacingAndGlyphs">60</text>
<line x1="189.8" y1="40.13" x2="191.1" y2="40.13" stroke="#444" stroke-width="0.6"/>
<text x="188.1" y="42.43" font-size="6.5" font-weight="bold" text-anchor="end" fill="#111" stroke="#111" stroke-width="0.32" textLength="6.56" lengthAdjust="spacingAndGlyphs">80</text>
<line x1="189.8" y1="18.31" x2="191.1" y2="18.31" stroke="#444" stroke-width="0.6"/>
<text x="188.1" y="20.61" font-size="6.5" font-weight="bold" text-anchor="end" fill="#111" stroke="#111" stroke-width="0.32" textLength="9.84" lengthAdjust="spacingAndGlyphs">100</text>
<line x1="197.6" y1="127.4" x2="197.6" y2="128.6" stroke="#444" stroke-width="0.6"/>
<line x1="218.6" y1="127.4" x2="218.6" y2="128.6" stroke="#444" stroke-width="0.6"/>
<line x1="239.6" y1="127.4" x2="239.6" y2="128.6" stroke="#444" stroke-width="0.6"/>
<line x1="260.6" y1="127.4" x2="260.6" y2="128.6" stroke="#444" stroke-width="0.6"/>
<line x1="281.6" y1="127.4" x2="281.6" y2="128.6" stroke="#444" stroke-width="0.6"/>
<line x1="302.6" y1="127.4" x2="302.6" y2="128.6" stroke="#444" stroke-width="0.6"/>
<line x1="323.6" y1="127.4" x2="323.6" y2="128.6" stroke="#444" stroke-width="0.6"/>
<text x="193.9" y="16" font-size="7" font-weight="bold" text-anchor="start" fill="#111" stroke="#111" stroke-width="0.32" textLength="10.6" lengthAdjust="spacingAndGlyphs">(b)</text>
<text x="325.6" y="15.7" font-size="6.3" font-weight="bold" text-anchor="end" fill="#111" stroke="#111" stroke-width="0.32" textLength="54.2" lengthAdjust="spacingAndGlyphs">Irrigation Fraction</text>
<rect x="280.7" y="19.8" width="9.9" height="3.3" fill="#fbeeee"/>
<text x="294.2" y="23.2" font-size="5.4" font-weight="normal" text-anchor="start" fill="#111" stroke="#111" stroke-width="0" textLength="15" lengthAdjust="spacingAndGlyphs">0-10%</text>
<rect x="280.7" y="26.66" width="9.9" height="3.3" fill="#f2dac8"/>
<text x="294.2" y="30.06" font-size="5.4" font-weight="normal" text-anchor="start" fill="#111" stroke="#111" stroke-width="0" textLength="18.3" lengthAdjust="spacingAndGlyphs">10-20%</text>
<rect x="280.7" y="33.52" width="9.9" height="3.3" fill="#d6cab3"/>
<text x="294.2" y="36.92" font-size="5.4" font-weight="normal" text-anchor="start" fill="#111" stroke="#111" stroke-width="0" textLength="18.3" lengthAdjust="spacingAndGlyphs">20-30%</text>
<rect x="280.7" y="40.38" width="9.9" height="3.3" fill="#b3c0b6"/>
<text x="294.2" y="43.78" font-size="5.4" font-weight="normal" text-anchor="start" fill="#111" stroke="#111" stroke-width="0" textLength="18.3" lengthAdjust="spacingAndGlyphs">30-40%</text>
<rect x="280.7" y="47.24" width="9.9" height="3.3" fill="#95b5c2"/>
<text x="294.2" y="50.64" font-size="5.4" font-weight="normal" text-anchor="start" fill="#111" stroke="#111" stroke-width="0" textLength="18.3" lengthAdjust="spacingAndGlyphs">40-50%</text>
<rect x="280.7" y="54.1" width="9.9" height="3.3" fill="#7ba6c6"/>
<text x="294.2" y="57.5" font-size="5.4" font-weight="normal" text-anchor="start" fill="#111" stroke="#111" stroke-width="0" textLength="18.3" lengthAdjust="spacingAndGlyphs">50-60%</text>
<rect x="280.7" y="60.96" width="9.9" height="3.3" fill="#6a8fc0"/>
<text x="294.2" y="64.36" font-size="5.4" font-weight="normal" text-anchor="start" fill="#111" stroke="#111" stroke-width="0" textLength="18.3" lengthAdjust="spacingAndGlyphs">60-70%</text>
<rect x="280.7" y="67.82" width="9.9" height="3.3" fill="#5b74b3"/>
<text x="294.2" y="71.22" font-size="5.4" font-weight="normal" text-anchor="start" fill="#111" stroke="#111" stroke-width="0" textLength="18.3" lengthAdjust="spacingAndGlyphs">70-80%</text>
<rect x="280.7" y="74.68" width="9.9" height="3.3" fill="#5a5c9e"/>
<text x="294.2" y="78.08" font-size="5.4" font-weight="normal" text-anchor="start" fill="#111" stroke="#111" stroke-width="0" textLength="18.3" lengthAdjust="spacingAndGlyphs">80-90%</text>
<rect x="280.7" y="81.54" width="9.9" height="3.3" fill="#4d3f8a"/>
<text x="294.2" y="84.94" font-size="5.4" font-weight="normal" text-anchor="start" fill="#111" stroke="#111" stroke-width="0" textLength="20.8" lengthAdjust="spacingAndGlyphs">90-100%</text>
<text x="175.1" y="67.4" font-size="6.6" font-weight="bold" text-anchor="middle" fill="#111" stroke="#111" stroke-width="0.32" textLength="80.5" lengthAdjust="spacingAndGlyphs" transform="rotate(-90 175.1 67.4)">Relative Frequency (%)</text>
<text x="260.85" y="135" font-size="6.6" font-weight="bold" text-anchor="middle" fill="#111" stroke="#111" stroke-width="0.32" textLength="129.2" lengthAdjust="spacingAndGlyphs">H08-GM WTD Residual (sim - obs) [m]</text>
<line x1="355.5" y1="127.4" x2="494.6" y2="127.4" stroke="#e2e2e2" stroke-width="0.6" stroke-dasharray="1.7 0.7"/>
<line x1="355.5" y1="105.58" x2="494.6" y2="105.58" stroke="#e2e2e2" stroke-width="0.6" stroke-dasharray="1.7 0.7"/>
<line x1="355.5" y1="83.76" x2="494.6" y2="83.76" stroke="#e2e2e2" stroke-width="0.6" stroke-dasharray="1.7 0.7"/>
<line x1="355.5" y1="61.95" x2="494.6" y2="61.95" stroke="#e2e2e2" stroke-width="0.6" stroke-dasharray="1.7 0.7"/>
<line x1="355.5" y1="40.13" x2="494.6" y2="40.13" stroke="#e2e2e2" stroke-width="0.6" stroke-dasharray="1.7 0.7"/>
<line x1="355.5" y1="18.31" x2="494.6" y2="18.31" stroke="#e2e2e2" stroke-width="0.6" stroke-dasharray="1.7 0.7"/>
<line x1="362.3" y1="7.4" x2="362.3" y2="127.4" stroke="#e2e2e2" stroke-width="0.6" stroke-dasharray="1.7 0.7"/>
<line x1="383.3" y1="7.4" x2="383.3" y2="127.4" stroke="#e2e2e2" stroke-width="0.6" stroke-dasharray="1.7 0.7"/>
<line x1="404.3" y1="7.4" x2="404.3" y2="127.4" stroke="#e2e2e2" stroke-width="0.6" stroke-dasharray="1.7 0.7"/>
<line x1="425.3" y1="7.4" x2="425.3" y2="127.4" stroke="#e2e2e2" stroke-width="0.6" stroke-dasharray="1.7 0.7"/>
<line x1="446.3" y1="7.4" x2="446.3" y2="127.4" stroke="#e2e2e2" stroke-width="0.6" stroke-dasharray="1.7 0.7"/>
<line x1="467.3" y1="7.4" x2="467.3" y2="127.4" stroke="#e2e2e2" stroke-width="0.6" stroke-dasharray="1.7 0.7"/>
<line x1="488.3" y1="7.4" x2="488.3" y2="127.4" stroke="#e2e2e2" stroke-width="0.6" stroke-dasharray="1.7 0.7"/>
<path d="M379.68 127.4H384.02V127.18H379.68ZM384.02 127.4H388.37V126.96H384.02ZM388.37 127.4H392.71V126.53H388.37ZM392.71 127.4H397.06V125.76H392.71ZM397.06 127.4H401.4V124.67H397.06ZM401.4 127.4H405.75V123.04H401.4ZM405.75 127.4H410.09V121.07H405.75ZM410.09 127.4H414.44V118.02H410.09ZM414.44 127.4H418.78V113.76H414.44ZM418.78 127.4H423.13V92.93H418.78ZM423.13 127.4H427.47V18.31H423.13ZM427.47 127.4H431.82V24.85H427.47ZM431.82 127.4H436.16V53.22H431.82ZM436.16 127.4H440.51V70.67H436.16ZM440.51 127.4H444.85V84.85H440.51ZM444.85 127.4H449.2V92.49H444.85ZM449.2 127.4H453.54V102.31H449.2ZM453.54 127.4H457.89V107.98H453.54ZM457.89 127.4H462.23V111.91H457.89ZM462.23 127.4H466.58V115.51H462.23ZM466.58 127.4H470.92V119.33H466.58ZM470.92 127.4H475.27V120.53H470.92ZM475.27 127.4H479.61V121.4H475.27ZM479.61 127.4H483.96V122.16H479.61ZM483.96 127.4H488.3V123.04H483.96Z" fill="#fdf3f2"/>
<path d="M401.4 127.4H405.75V127.18H401.4ZM405.75 127.4H410.09V126.96H405.75ZM410.09 127.4H414.44V126.53H410.09ZM414.44 127.4H418.78V124.78H414.44ZM418.78 127.4H423.13V117.15H418.78ZM423.13 127.4H427.47V93.58H423.13ZM427.47 127.4H431.82V102.64H427.47ZM431.82 127.4H436.16V113.22H431.82ZM436.16 127.4H440.51V118.13H436.16ZM440.51 127.4H444.85V120.2H440.51ZM444.85 127.4H449.2V122.93H444.85ZM449.2 127.4H453.54V124.24H449.2ZM453.54 127.4H457.89V125.22H453.54ZM457.89 127.4H462.23V125.76H457.89ZM462.23 127.4H466.58V126.09H462.23ZM466.58 127.4H470.92V126.31H466.58ZM470.92 127.4H475.27V126.53H470.92ZM475.27 127.4H479.61V126.75H475.27ZM479.61 127.4H483.96V126.85H479.61ZM483.96 127.4H488.3V126.96H483.96Z" fill="#f2dfcf"/>
<path d="M410.09 127.4H414.44V126.96H410.09ZM414.44 127.4H418.78V125.65H414.44ZM418.78 127.4H423.13V121.07H418.78ZM423.13 127.4H427.47V103.95H423.13ZM427.47 127.4H431.82V110.6H427.47ZM431.82 127.4H436.16V118.13H431.82ZM436.16 127.4H440.51V121.84H436.16ZM440.51 127.4H444.85V122.93H440.51ZM444.85 127.4H449.2V124.56H444.85ZM449.2 127.4H453.54V125.44H449.2ZM453.54 127.4H457.89V125.98H453.54ZM457.89 127.4H462.23V126.31H457.89ZM462.23 127.4H466.58V126.53H462.23ZM466.58 127.4H470.92V126.75H466.58ZM470.92 127.4H475.27V126.85H470.92ZM475.27 127.4H479.61V126.96H475.27ZM479.61 127.4H483.96V127.07H479.61ZM483.96 127.4H488.3V127.07H483.96Z" fill="#d5c6ad"/>
<path d="M410.09 127.4H414.44V127.03H410.09ZM414.44 127.4H418.78V125.85H414.44ZM418.78 127.4H423.13V122.25H418.78ZM423.13 127.4H427.47V110.49H423.13ZM427.47 127.4H431.82V113.94H427.47ZM431.82 127.4H436.16V120.03H431.82ZM436.16 127.4H440.51V122.95H436.16ZM440.51 127.4H444.85V123.91H440.51ZM444.85 127.4H449.2V125.09H444.85ZM449.2 127.4H453.54V125.83H449.2ZM453.54 127.4H457.89V126.24H453.54ZM457.89 127.4H462.23V126.51H457.89ZM462.23 127.4H466.58V126.72H462.23ZM466.58 127.4H470.92V126.88H466.58ZM470.92 127.4H475.27V126.99H470.92ZM475.27 127.4H479.61V127.03H475.27ZM479.61 127.4H483.96V127.14H479.61ZM483.96 127.4H488.3V127.14H483.96Z" fill="#b0bab0"/>
<path d="M410.09 127.4H414.44V127.07H410.09ZM414.44 127.4H418.78V125.98H414.44ZM418.78 127.4H423.13V123.04H418.78ZM423.13 127.4H427.47V114.85H423.13ZM427.47 127.4H431.82V116.16H427.47ZM431.82 127.4H436.16V121.29H431.82ZM436.16 127.4H440.51V123.69H436.16ZM440.51 127.4H444.85V124.56H440.51ZM444.85 127.4H449.2V125.44H444.85ZM449.2 127.4H453.54V126.09H449.2ZM453.54 127.4H457.89V126.42H453.54ZM457.89 127.4H462.23V126.64H457.89ZM462.23 127.4H466.58V126.85H462.23ZM466.58 127.4H470.92V126.96H466.58ZM470.92 127.4H475.27V127.07H470.92ZM475.27 127.4H479.61V127.07H475.27ZM479.61 127.4H483.96V127.18H479.61ZM483.96 127.4H488.3V127.18H483.96Z" fill="#7fa8ba"/>
<path d="M405.75 127.4H410.09V127.18H405.75ZM410.09 127.4H414.44V126.92H410.09ZM414.44 127.4H418.78V126.13H414.44ZM418.78 127.4H423.13V124.22H418.78ZM423.13 127.4H427.47V117.38H423.13ZM427.47 127.4H431.82V120.61H427.47ZM431.82 127.4H436.16V123.81H431.82ZM436.16 127.4H440.51V124.95H436.16ZM440.51 127.4H444.85V125.31H440.51ZM444.85 127.4H449.2V125.88H444.85ZM449.2 127.4H453.54V126.39H449.2ZM453.54 127.4H457.89V126.71H453.54ZM457.89 127.4H462.23V126.86H457.89ZM462.23 127.4H466.58V127H462.23ZM466.58 127.4H470.92V127.04H466.58ZM470.92 127.4H475.27V127.15H470.92ZM475.27 127.4H479.61V127.15H475.27ZM479.61 127.4H483.96V127.26H479.61ZM483.96 127.4H488.3V127.26H483.96Z" fill="#4a80b0"/>
<path d="M405.75 127.4H410.09V127.07H405.75ZM410.09 127.4H414.44V126.85H410.09ZM414.44 127.4H418.78V126.2H414.44ZM418.78 127.4H423.13V124.78H418.78ZM423.13 127.4H427.47V118.56H423.13ZM427.47 127.4H431.82V122.71H427.47ZM431.82 127.4H436.16V125H431.82ZM436.16 127.4H440.51V125.55H436.16ZM440.51 127.4H444.85V125.65H440.51ZM444.85 127.4H449.2V126.09H444.85ZM449.2 127.4H453.54V126.53H449.2ZM453.54 127.4H457.89V126.85H453.54ZM457.89 127.4H462.23V126.96H457.89ZM462.23 127.4H466.58V127.07H462.23ZM466.58 127.4H470.92V127.07H466.58ZM470.92 127.4H475.27V127.18H470.92ZM475.27 127.4H479.61V127.18H475.27ZM479.61 127.4H483.96V127.29H479.61ZM483.96 127.4H488.3V127.29H483.96Z" fill="#1f2c84"/>
<path d="M405.75 127.4H410.09V127.22H405.75ZM410.09 127.4H414.44V127.1H410.09ZM414.44 127.4H418.78V126.74H414.44ZM418.78 127.4H423.13V125.96H418.78ZM423.13 127.4H427.47V122.54H423.13ZM427.47 127.4H431.82V124.82H427.47ZM431.82 127.4H436.16V126.08H431.82ZM436.16 127.4H440.51V126.38H436.16ZM440.51 127.4H444.85V126.44H440.51ZM444.85 127.4H449.2V126.68H444.85ZM449.2 127.4H453.54V126.92H449.2ZM453.54 127.4H457.89V127.1H453.54ZM457.89 127.4H462.23V127.16H457.89ZM462.23 127.4H466.58V127.22H462.23ZM466.58 127.4H470.92V127.22H466.58ZM470.92 127.4H475.27V127.28H470.92ZM475.27 127.4H479.61V127.28H475.27ZM479.61 127.4H483.96V127.34H479.61ZM483.96 127.4H488.3V127.34H483.96Z" fill="#151a74"/>
<g opacity="0.45">
<line x1="355.5" y1="105.58" x2="494.6" y2="105.58" stroke="#e2e2e2" stroke-width="0.6" stroke-dasharray="1.7 0.7"/>
<line x1="355.5" y1="83.76" x2="494.6" y2="83.76" stroke="#e2e2e2" stroke-width="0.6" stroke-dasharray="1.7 0.7"/>
<line x1="355.5" y1="61.95" x2="494.6" y2="61.95" stroke="#e2e2e2" stroke-width="0.6" stroke-dasharray="1.7 0.7"/>
<line x1="355.5" y1="40.13" x2="494.6" y2="40.13" stroke="#e2e2e2" stroke-width="0.6" stroke-dasharray="1.7 0.7"/>
<line x1="355.5" y1="18.31" x2="494.6" y2="18.31" stroke="#e2e2e2" stroke-width="0.6" stroke-dasharray="1.7 0.7"/>
<line x1="362.3" y1="7.4" x2="362.3" y2="127.4" stroke="#e2e2e2" stroke-width="0.6" stroke-dasharray="1.7 0.7"/>
<line x1="383.3" y1="7.4" x2="383.3" y2="127.4" stroke="#e2e2e2" stroke-width="0.6" stroke-dasharray="1.7 0.7"/>
<line x1="404.3" y1="7.4" x2="404.3" y2="127.4" stroke="#e2e2e2" stroke-width="0.6" stroke-dasharray="1.7 0.7"/>
<line x1="425.3" y1="7.4" x2="425.3" y2="127.4" stroke="#e2e2e2" stroke-width="0.6" stroke-dasharray="1.7 0.7"/>
<line x1="446.3" y1="7.4" x2="446.3" y2="127.4" stroke="#e2e2e2" stroke-width="0.6" stroke-dasharray="1.7 0.7"/>
<line x1="467.3" y1="7.4" x2="467.3" y2="127.4" stroke="#e2e2e2" stroke-width="0.6" stroke-dasharray="1.7 0.7"/>
<line x1="488.3" y1="7.4" x2="488.3" y2="127.4" stroke="#e2e2e2" stroke-width="0.6" stroke-dasharray="1.7 0.7"/>
</g>
<rect x="355.5" y="7.4" width="139.1" height="120" fill="none" stroke="#878787" stroke-width="1"/>
<line x1="354.2" y1="127.4" x2="355.5" y2="127.4" stroke="#444" stroke-width="0.6"/>
<text x="352.5" y="129.7" font-size="6.5" font-weight="bold" text-anchor="end" fill="#111" stroke="#111" stroke-width="0.32" textLength="3.28" lengthAdjust="spacingAndGlyphs">0</text>
<line x1="354.2" y1="105.58" x2="355.5" y2="105.58" stroke="#444" stroke-width="0.6"/>
<text x="352.5" y="107.88" font-size="6.5" font-weight="bold" text-anchor="end" fill="#111" stroke="#111" stroke-width="0.32" textLength="6.56" lengthAdjust="spacingAndGlyphs">20</text>
<line x1="354.2" y1="83.76" x2="355.5" y2="83.76" stroke="#444" stroke-width="0.6"/>
<text x="352.5" y="86.06" font-size="6.5" font-weight="bold" text-anchor="end" fill="#111" stroke="#111" stroke-width="0.32" textLength="6.56" lengthAdjust="spacingAndGlyphs">40</text>
<line x1="354.2" y1="61.95" x2="355.5" y2="61.95" stroke="#444" stroke-width="0.6"/>
<text x="352.5" y="64.25" font-size="6.5" font-weight="bold" text-anchor="end" fill="#111" stroke="#111" stroke-width="0.32" textLength="6.56" lengthAdjust="spacingAndGlyphs">60</text>
<line x1="354.2" y1="40.13" x2="355.5" y2="40.13" stroke="#444" stroke-width="0.6"/>
<text x="352.5" y="42.43" font-size="6.5" font-weight="bold" text-anchor="end" fill="#111" stroke="#111" stroke-width="0.32" textLength="6.56" lengthAdjust="spacingAndGlyphs">80</text>
<line x1="354.2" y1="18.31" x2="355.5" y2="18.31" stroke="#444" stroke-width="0.6"/>
<text x="352.5" y="20.61" font-size="6.5" font-weight="bold" text-anchor="end" fill="#111" stroke="#111" stroke-width="0.32" textLength="9.84" lengthAdjust="spacingAndGlyphs">100</text>
<line x1="362.3" y1="127.4" x2="362.3" y2="128.6" stroke="#444" stroke-width="0.6"/>
<line x1="383.3" y1="127.4" x2="383.3" y2="128.6" stroke="#444" stroke-width="0.6"/>
<line x1="404.3" y1="127.4" x2="404.3" y2="128.6" stroke="#444" stroke-width="0.6"/>
<line x1="425.3" y1="127.4" x2="425.3" y2="128.6" stroke="#444" stroke-width="0.6"/>
<line x1="446.3" y1="127.4" x2="446.3" y2="128.6" stroke="#444" stroke-width="0.6"/>
<line x1="467.3" y1="127.4" x2="467.3" y2="128.6" stroke="#444" stroke-width="0.6"/>
<line x1="488.3" y1="127.4" x2="488.3" y2="128.6" stroke="#444" stroke-width="0.6"/>
<text x="358.3" y="16" font-size="7" font-weight="bold" text-anchor="start" fill="#111" stroke="#111" stroke-width="0.32" textLength="10" lengthAdjust="spacingAndGlyphs">(c)</text>
<text x="490" y="15.7" font-size="6.3" font-weight="bold" text-anchor="end" fill="#111" stroke="#111" stroke-width="0.32" textLength="54.2" lengthAdjust="spacingAndGlyphs">Irrigation Fraction</text>
<rect x="445.1" y="19.8" width="9.9" height="3.3" fill="#fbeeee"/>
<text x="458.6" y="23.2" font-size="5.4" font-weight="normal" text-anchor="start" fill="#111" stroke="#111" stroke-width="0" textLength="15" lengthAdjust="spacingAndGlyphs">0-10%</text>
<rect x="445.1" y="26.66" width="9.9" height="3.3" fill="#f2dac8"/>
<text x="458.6" y="30.06" font-size="5.4" font-weight="normal" text-anchor="start" fill="#111" stroke="#111" stroke-width="0" textLength="18.3" lengthAdjust="spacingAndGlyphs">10-20%</text>
<rect x="445.1" y="33.52" width="9.9" height="3.3" fill="#d6cab3"/>
<text x="458.6" y="36.92" font-size="5.4" font-weight="normal" text-anchor="start" fill="#111" stroke="#111" stroke-width="0" textLength="18.3" lengthAdjust="spacingAndGlyphs">20-30%</text>
<rect x="445.1" y="40.38" width="9.9" height="3.3" fill="#b3c0b6"/>
<text x="458.6" y="43.78" font-size="5.4" font-weight="normal" text-anchor="start" fill="#111" stroke="#111" stroke-width="0" textLength="18.3" lengthAdjust="spacingAndGlyphs">30-40%</text>
<rect x="445.1" y="47.24" width="9.9" height="3.3" fill="#95b5c2"/>
<text x="458.6" y="50.64" font-size="5.4" font-weight="normal" text-anchor="start" fill="#111" stroke="#111" stroke-width="0" textLength="18.3" lengthAdjust="spacingAndGlyphs">40-50%</text>
<rect x="445.1" y="54.1" width="9.9" height="3.3" fill="#7ba6c6"/>
<text x="458.6" y="57.5" font-size="5.4" font-weight="normal" text-anchor="start" fill="#111" stroke="#111" stroke-width="0" textLength="18.3" lengthAdjust="spacingAndGlyphs">50-60%</text>
<rect x="445.1" y="60.96" width="9.9" height="3.3" fill="#6a8fc0"/>
<text x="458.6" y="64.36" font-size="5.4" font-weight="normal" text-anchor="start" fill="#111" stroke="#111" stroke-width="0" textLength="18.3" lengthAdjust="spacingAndGlyphs">60-70%</text>
<rect x="445.1" y="67.82" width="9.9" height="3.3" fill="#5b74b3"/>
<text x="458.6" y="71.22" font-size="5.4" font-weight="normal" text-anchor="start" fill="#111" stroke="#111" stroke-width="0" textLength="18.3" lengthAdjust="spacingAndGlyphs">70-80%</text>
<rect x="445.1" y="74.68" width="9.9" height="3.3" fill="#5a5c9e"/>
<text x="458.6" y="78.08" font-size="5.4" font-weight="normal" text-anchor="start" fill="#111" stroke="#111" stroke-width="0" textLength="18.3" lengthAdjust="spacingAndGlyphs">80-90%</text>
<rect x="445.1" y="81.54" width="9.9" height="3.3" fill="#4d3f8a"/>
<text x="458.6" y="84.94" font-size="5.4" font-weight="normal" text-anchor="start" fill="#111" stroke="#111" stroke-width="0" textLength="20.8" lengthAdjust="spacingAndGlyphs">90-100%</text>
<text x="339.5" y="67.4" font-size="6.6" font-weight="bold" text-anchor="middle" fill="#111" stroke="#111" stroke-width="0.32" textLength="80.5" lengthAdjust="spacingAndGlyphs" transform="rotate(-90 339.5 67.4)">Relative Frequency (%)</text>
<text x="425.25" y="135" font-size="6.6" font-weight="bold" text-anchor="middle" fill="#111" stroke="#111" stroke-width="0.32" textLength="117.2" lengthAdjust="spacingAndGlyphs">Ensemble Residual (sim - obs) [m]</text>
<line x1="191.1" y1="263.3" x2="330.2" y2="263.3" stroke="#e2e2e2" stroke-width="0.6" stroke-dasharray="1.7 0.7"/>
<line x1="191.1" y1="241.34" x2="330.2" y2="241.34" stroke="#e2e2e2" stroke-width="0.6" stroke-dasharray="1.7 0.7"/>
<line x1="191.1" y1="219.37" x2="330.2" y2="219.37" stroke="#e2e2e2" stroke-width="0.6" stroke-dasharray="1.7 0.7"/>
<line x1="191.1" y1="197.41" x2="330.2" y2="197.41" stroke="#e2e2e2" stroke-width="0.6" stroke-dasharray="1.7 0.7"/>
<line x1="191.1" y1="175.45" x2="330.2" y2="175.45" stroke="#e2e2e2" stroke-width="0.6" stroke-dasharray="1.7 0.7"/>
<line x1="191.1" y1="153.48" x2="330.2" y2="153.48" stroke="#e2e2e2" stroke-width="0.6" stroke-dasharray="1.7 0.7"/>
<line x1="197.6" y1="142.5" x2="197.6" y2="263.3" stroke="#e2e2e2" stroke-width="0.6" stroke-dasharray="1.7 0.7"/>
<line x1="218.6" y1="142.5" x2="218.6" y2="263.3" stroke="#e2e2e2" stroke-width="0.6" stroke-dasharray="1.7 0.7"/>
<line x1="239.6" y1="142.5" x2="239.6" y2="263.3" stroke="#e2e2e2" stroke-width="0.6" stroke-dasharray="1.7 0.7"/>
<line x1="260.6" y1="142.5" x2="260.6" y2="263.3" stroke="#e2e2e2" stroke-width="0.6" stroke-dasharray="1.7 0.7"/>
<line x1="281.6" y1="142.5" x2="281.6" y2="263.3" stroke="#e2e2e2" stroke-width="0.6" stroke-dasharray="1.7 0.7"/>
<line x1="302.6" y1="142.5" x2="302.6" y2="263.3" stroke="#e2e2e2" stroke-width="0.6" stroke-dasharray="1.7 0.7"/>
<line x1="323.6" y1="142.5" x2="323.6" y2="263.3" stroke="#e2e2e2" stroke-width="0.6" stroke-dasharray="1.7 0.7"/>
<path d="M214.98 263.3H219.32V263.08H214.98ZM219.32 263.3H223.67V262.86H219.32ZM223.67 263.3H228.01V262.42H223.67ZM228.01 263.3H232.36V261.65H228.01ZM232.36 263.3H236.7V259.46H232.36ZM236.7 263.3H241.05V255.06H236.7ZM241.05 263.3H245.39V246.83H241.05ZM245.39 263.3H249.74V230.35H245.39ZM249.74 263.3H254.08V205.1H249.74ZM254.08 263.3H258.43V153.48H254.08ZM258.43 263.3H262.77V166.66H258.43ZM262.77 263.3H267.12V216.08H262.77ZM267.12 263.3H271.46V227.06H267.12ZM271.46 263.3H275.81V230.35H271.46ZM275.81 263.3H280.15V235.85H275.81ZM280.15 263.3H284.5V240.24H280.15ZM284.5 263.3H288.84V244.08H284.5ZM288.84 263.3H293.19V247.38H288.84ZM293.19 263.3H297.53V250.12H293.19ZM297.53 263.3H301.88V252.87H297.53ZM301.88 263.3H306.22V255.06H301.88ZM306.22 263.3H310.57V256.71H306.22ZM310.57 263.3H314.91V257.81H310.57ZM314.91 263.3H319.26V258.91H314.91ZM319.26 263.3H323.6V259.79H319.26Z" fill="#fdf3f2"/>
<path d="M214.98 263.3H219.32V262.97H214.98ZM219.32 263.3H223.67V262.75H219.32ZM223.67 263.3H228.01V262.53H223.67ZM228.01 263.3H232.36V262.2H228.01ZM232.36 263.3H236.7V261.54H232.36ZM236.7 263.3H241.05V260.44H236.7ZM241.05 263.3H245.39V258.25H241.05ZM245.39 263.3H249.74V252.1H245.39ZM249.74 263.3H254.08V241.45H249.74ZM254.08 263.3H258.43V226.18H254.08ZM258.43 263.3H262.77V233.65H258.43ZM262.77 263.3H267.12V241.45H262.77ZM267.12 263.3H271.46V251.22H267.12ZM271.46 263.3H275.81V253.86H271.46ZM275.81 263.3H280.15V257.37H275.81ZM280.15 263.3H284.5V259.13H280.15ZM284.5 263.3H288.84V260.01H284.5ZM288.84 263.3H293.19V260.55H288.84ZM293.19 263.3H297.53V260.99H293.19ZM297.53 263.3H301.88V261.32H297.53ZM301.88 263.3H306.22V261.65H301.88ZM306.22 263.3H310.57V261.87H306.22ZM310.57 263.3H314.91V262.09H310.57ZM314.91 263.3H319.26V262.31H314.91ZM319.26 263.3H323.6V262.53H319.26Z" fill="#f0d3bd"/>
<path d="M236.7 263.3H241.05V262.86H236.7ZM241.05 263.3H245.39V262.2H241.05ZM245.39 263.3H249.74V260.55H245.39ZM249.74 263.3H254.08V258.03H249.74ZM254.08 263.3H258.43V252.98H254.08ZM258.43 263.3H262.77V253.86H258.43ZM262.77 263.3H267.12V259.79H262.77ZM267.12 263.3H271.46V261.87H267.12ZM271.46 263.3H275.81V262.2H271.46ZM275.81 263.3H280.15V262.42H275.81ZM280.15 263.3H284.5V262.64H280.15ZM284.5 263.3H288.84V262.75H284.5ZM288.84 263.3H293.19V262.86H288.84ZM293.19 263.3H297.53V262.97H293.19ZM297.53 263.3H301.88V262.97H297.53ZM301.88 263.3H306.22V263.08H301.88ZM306.22 263.3H310.57V263.08H306.22ZM310.57 263.3H314.91V263.08H310.57ZM314.91 263.3H319.26V263.19H314.91ZM319.26 263.3H323.6V263.19H319.26Z" fill="#cfc5ad"/>
<path d="M236.7 263.3H241.05V262.93H236.7ZM241.05 263.3H245.39V262.27H241.05ZM245.39 263.3H249.74V260.98H245.39ZM249.74 263.3H254.08V259.03H249.74ZM254.08 263.3H258.43V254.33H254.08ZM258.43 263.3H262.77V255.28H258.43ZM262.77 263.3H267.12V260.07H262.77ZM267.12 263.3H271.46V262.02H267.12ZM271.46 263.3H275.81V262.34H271.46ZM275.81 263.3H280.15V262.56H275.81ZM280.15 263.3H284.5V262.71H280.15ZM284.5 263.3H288.84V262.82H284.5ZM288.84 263.3H293.19V262.93H288.84ZM293.19 263.3H297.53V262.97H293.19ZM297.53 263.3H301.88V263.04H297.53ZM301.88 263.3H306.22V263.08H301.88ZM306.22 263.3H310.57V263.15H306.22ZM310.57 263.3H314.91V263.15H310.57ZM314.91 263.3H319.26V263.26H314.91ZM319.26 263.3H323.6V263.26H319.26Z" fill="#a4b6ac"/>
<path d="M236.7 263.3H241.05V262.97H236.7ZM241.05 263.3H245.39V262.31H241.05ZM245.39 263.3H249.74V261.21H245.39ZM249.74 263.3H254.08V259.57H249.74ZM254.08 263.3H258.43V255.06H254.08ZM258.43 263.3H262.77V256.05H258.43ZM262.77 263.3H267.12V260.23H262.77ZM267.12 263.3H271.46V262.09H267.12ZM271.46 263.3H275.81V262.42H271.46ZM275.81 263.3H280.15V262.64H275.81ZM280.15 263.3H284.5V262.75H280.15ZM284.5 263.3H288.84V262.86H284.5ZM288.84 263.3H293.19V262.97H288.84ZM293.19 263.3H297.53V262.97H293.19ZM297.53 263.3H301.88V263.08H297.53ZM301.88 263.3H306.22V263.08H301.88ZM306.22 263.3H310.57V263.19H306.22ZM310.57 263.3H314.91V263.19H310.57Z" fill="#7fa2aa"/>
<path d="M236.7 263.3H241.05V263.05H236.7ZM241.05 263.3H245.39V262.61H241.05ZM245.39 263.3H249.74V262.03H245.39ZM249.74 263.3H254.08V260.91H249.74ZM254.08 263.3H258.43V259.1H254.08ZM258.43 263.3H262.77V258.74H258.43ZM262.77 263.3H267.12V261.49H262.77ZM267.12 263.3H271.46V262.47H267.12ZM271.46 263.3H275.81V262.72H271.46ZM275.81 263.3H280.15V262.87H275.81ZM280.15 263.3H284.5V262.97H280.15ZM284.5 263.3H288.84V263.01H284.5ZM288.84 263.3H293.19V263.12H288.84ZM293.19 263.3H297.53V263.19H293.19ZM297.53 263.3H301.88V263.23H297.53ZM301.88 263.3H306.22V263.23H301.88ZM306.22 263.3H310.57V263.26H306.22ZM310.57 263.3H314.91V263.26H310.57Z" fill="#4e84ac"/>
<path d="M236.7 263.3H241.05V263.08H236.7ZM241.05 263.3H245.39V262.75H241.05ZM245.39 263.3H249.74V262.42H245.39ZM249.74 263.3H254.08V261.54H249.74ZM254.08 263.3H258.43V260.99H254.08ZM258.43 263.3H262.77V260.01H258.43ZM262.77 263.3H267.12V262.09H262.77ZM267.12 263.3H271.46V262.64H267.12ZM271.46 263.3H275.81V262.86H271.46ZM275.81 263.3H280.15V262.97H275.81ZM280.15 263.3H284.5V263.08H280.15ZM284.5 263.3H288.84V263.08H284.5ZM288.84 263.3H293.19V263.19H288.84Z" fill="#202e86"/>
<path d="M236.7 263.3H241.05V263.18H236.7ZM241.05 263.3H245.39V263H241.05ZM245.39 263.3H249.74V262.82H245.39ZM249.74 263.3H254.08V262.33H249.74ZM254.08 263.3H258.43V262.03H254.08ZM258.43 263.3H262.77V261.49H258.43ZM262.77 263.3H267.12V262.64H262.77ZM267.12 263.3H271.46V262.94H267.12ZM271.46 263.3H275.81V263.06H271.46ZM275.81 263.3H280.15V263.12H275.81ZM280.15 263.3H284.5V263.18H280.15ZM284.5 263.3H288.84V263.18H284.5ZM288.84 263.3H293.19V263.24H288.84Z" fill="#131870"/>
<g opacity="0.45">
<line x1="191.1" y1="241.34" x2="330.2" y2="241.34" stroke="#e2e2e2" stroke-width="0.6" stroke-dasharray="1.7 0.7"/>
<line x1="191.1" y1="219.37" x2="330.2" y2="219.37" stroke="#e2e2e2" stroke-width="0.6" stroke-dasharray="1.7 0.7"/>
<line x1="191.1" y1="197.41" x2="330.2" y2="197.41" stroke="#e2e2e2" stroke-width="0.6" stroke-dasharray="1.7 0.7"/>
<line x1="191.1" y1="175.45" x2="330.2" y2="175.45" stroke="#e2e2e2" stroke-width="0.6" stroke-dasharray="1.7 0.7"/>
<line x1="191.1" y1="153.48" x2="330.2" y2="153.48" stroke="#e2e2e2" stroke-width="0.6" stroke-dasharray="1.7 0.7"/>
<line x1="197.6" y1="142.5" x2="197.6" y2="263.3" stroke="#e2e2e2" stroke-width="0.6" stroke-dasharray="1.7 0.7"/>
<line x1="218.6" y1="142.5" x2="218.6" y2="263.3" stroke="#e2e2e2" stroke-width="0.6" stroke-dasharray="1.7 0.7"/>
<line x1="239.6" y1="142.5" x2="239.6" y2="263.3" stroke="#e2e2e2" stroke-width="0.6" stroke-dasharray="1.7 0.7"/>
<line x1="260.6" y1="142.5" x2="260.6" y2="263.3" stroke="#e2e2e2" stroke-width="0.6" stroke-dasharray="1.7 0.7"/>
<line x1="281.6" y1="142.5" x2="281.6" y2="263.3" stroke="#e2e2e2" stroke-width="0.6" stroke-dasharray="1.7 0.7"/>
<line x1="302.6" y1="142.5" x2="302.6" y2="263.3" stroke="#e2e2e2" stroke-width="0.6" stroke-dasharray="1.7 0.7"/>
<line x1="323.6" y1="142.5" x2="323.6" y2="263.3" stroke="#e2e2e2" stroke-width="0.6" stroke-dasharray="1.7 0.7"/>
</g>
<rect x="191.1" y="142.5" width="139.1" height="120.8" fill="none" stroke="#878787" stroke-width="1"/>
<line x1="189.8" y1="263.3" x2="191.1" y2="263.3" stroke="#444" stroke-width="0.6"/>
<text x="188.1" y="265.6" font-size="6.5" font-weight="bold" text-anchor="end" fill="#111" stroke="#111" stroke-width="0.32" textLength="3.28" lengthAdjust="spacingAndGlyphs">0</text>
<line x1="189.8" y1="241.34" x2="191.1" y2="241.34" stroke="#444" stroke-width="0.6"/>
<text x="188.1" y="243.64" font-size="6.5" font-weight="bold" text-anchor="end" fill="#111" stroke="#111" stroke-width="0.32" textLength="6.56" lengthAdjust="spacingAndGlyphs">20</text>
<line x1="189.8" y1="219.37" x2="191.1" y2="219.37" stroke="#444" stroke-width="0.6"/>
<text x="188.1" y="221.67" font-size="6.5" font-weight="bold" text-anchor="end" fill="#111" stroke="#111" stroke-width="0.32" textLength="6.56" lengthAdjust="spacingAndGlyphs">40</text>
<line x1="189.8" y1="197.41" x2="191.1" y2="197.41" stroke="#444" stroke-width="0.6"/>
<text x="188.1" y="199.71" font-size="6.5" font-weight="bold" text-anchor="end" fill="#111" stroke="#111" stroke-width="0.32" textLength="6.56" lengthAdjust="spacingAndGlyphs">60</text>
<line x1="189.8" y1="175.45" x2="191.1" y2="175.45" stroke="#444" stroke-width="0.6"/>
<text x="188.1" y="177.75" font-size="6.5" font-weight="bold" text-anchor="end" fill="#111" stroke="#111" stroke-width="0.32" textLength="6.56" lengthAdjust="spacingAndGlyphs">80</text>
<line x1="189.8" y1="153.48" x2="191.1" y2="153.48" stroke="#444" stroke-width="0.6"/>
<text x="188.1" y="155.78" font-size="6.5" font-weight="bold" text-anchor="end" fill="#111" stroke="#111" stroke-width="0.32" textLength="9.84" lengthAdjust="spacingAndGlyphs">100</text>
<line x1="197.6" y1="263.3" x2="197.6" y2="264.5" stroke="#444" stroke-width="0.6"/>
<text x="197.6" y="270.3" font-size="5.7" font-weight="bold" text-anchor="middle" fill="#111" stroke="#111" stroke-width="0.32" textLength="14.27" lengthAdjust="spacingAndGlyphs">−150</text>
<line x1="218.6" y1="263.3" x2="218.6" y2="264.5" stroke="#444" stroke-width="0.6"/>
<text x="218.6" y="270.3" font-size="5.7" font-weight="bold" text-anchor="middle" fill="#111" stroke="#111" stroke-width="0.32" textLength="14.27" lengthAdjust="spacingAndGlyphs">−100</text>
<line x1="239.6" y1="263.3" x2="239.6" y2="264.5" stroke="#444" stroke-width="0.6"/>
<text x="239.6" y="270.3" font-size="5.7" font-weight="bold" text-anchor="middle" fill="#111" stroke="#111" stroke-width="0.32" textLength="10.99" lengthAdjust="spacingAndGlyphs">−50</text>
<line x1="260.6" y1="263.3" x2="260.6" y2="264.5" stroke="#444" stroke-width="0.6"/>
<text x="260.6" y="270.3" font-size="5.7" font-weight="bold" text-anchor="middle" fill="#111" stroke="#111" stroke-width="0.32" textLength="3.28" lengthAdjust="spacingAndGlyphs">0</text>
<line x1="281.6" y1="263.3" x2="281.6" y2="264.5" stroke="#444" stroke-width="0.6"/>
<text x="281.6" y="270.3" font-size="5.7" font-weight="bold" text-anchor="middle" fill="#111" stroke="#111" stroke-width="0.32" textLength="6.56" lengthAdjust="spacingAndGlyphs">50</text>
<line x1="302.6" y1="263.3" x2="302.6" y2="264.5" stroke="#444" stroke-width="0.6"/>
<text x="302.6" y="270.3" font-size="5.7" font-weight="bold" text-anchor="middle" fill="#111" stroke="#111" stroke-width="0.32" textLength="9.84" lengthAdjust="spacingAndGlyphs">100</text>
<line x1="323.6" y1="263.3" x2="323.6" y2="264.5" stroke="#444" stroke-width="0.6"/>
<text x="323.6" y="270.3" font-size="5.7" font-weight="bold" text-anchor="middle" fill="#111" stroke="#111" stroke-width="0.32" textLength="9.84" lengthAdjust="spacingAndGlyphs">150</text>
<text x="193.9" y="151.1" font-size="7" font-weight="bold" text-anchor="start" fill="#111" stroke="#111" stroke-width="0.32" textLength="10.6" lengthAdjust="spacingAndGlyphs">(e)</text>
<text x="325.6" y="150.8" font-size="6.3" font-weight="bold" text-anchor="end" fill="#111" stroke="#111" stroke-width="0.32" textLength="56.2" lengthAdjust="spacingAndGlyphs">Population Density</text>
<rect x="279.1" y="154.9" width="9.9" height="3.3" fill="#fbeaea"/>
<text x="292.2" y="158.3" font-size="5.4" font-weight="normal" text-anchor="start" fill="#111" stroke="#111" stroke-width="0" textLength="11" lengthAdjust="spacingAndGlyphs">1-1K</text>
<rect x="279.1" y="161.76" width="9.9" height="3.3" fill="#f1d6c3"/>
<text x="292.2" y="165.16" font-size="5.4" font-weight="normal" text-anchor="start" fill="#111" stroke="#111" stroke-width="0" textLength="15.5" lengthAdjust="spacingAndGlyphs">1K-5K</text>
<rect x="279.1" y="168.62" width="9.9" height="3.3" fill="#c9c2aa"/>
<text x="292.2" y="172.02" font-size="5.4" font-weight="normal" text-anchor="start" fill="#111" stroke="#111" stroke-width="0" textLength="18" lengthAdjust="spacingAndGlyphs">5K-10K</text>
<rect x="279.1" y="175.48" width="9.9" height="3.3" fill="#a6bab4"/>
<text x="292.2" y="178.88" font-size="5.4" font-weight="normal" text-anchor="start" fill="#111" stroke="#111" stroke-width="0" textLength="19.6" lengthAdjust="spacingAndGlyphs">10K-20K</text>
<rect x="279.1" y="182.34" width="9.9" height="3.3" fill="#93b5c8"/>
<text x="292.2" y="185.74" font-size="5.4" font-weight="normal" text-anchor="start" fill="#111" stroke="#111" stroke-width="0" textLength="19.6" lengthAdjust="spacingAndGlyphs">20K-40K</text>
<rect x="279.1" y="189.2" width="9.9" height="3.3" fill="#7ca2c8"/>
<text x="292.2" y="192.6" font-size="5.4" font-weight="normal" text-anchor="start" fill="#111" stroke="#111" stroke-width="0" textLength="19.6" lengthAdjust="spacingAndGlyphs">40K-60K</text>
<rect x="279.1" y="196.06" width="9.9" height="3.3" fill="#6a88bc"/>
<text x="292.2" y="199.46" font-size="5.4" font-weight="normal" text-anchor="start" fill="#111" stroke="#111" stroke-width="0" textLength="19.6" lengthAdjust="spacingAndGlyphs">60K-80K</text>
<rect x="279.1" y="202.92" width="9.9" height="3.3" fill="#5c67a8"/>
<text x="292.2" y="206.32" font-size="5.4" font-weight="normal" text-anchor="start" fill="#111" stroke="#111" stroke-width="0" textLength="22.6" lengthAdjust="spacingAndGlyphs">80K-100K</text>
<rect x="279.1" y="209.78" width="9.9" height="3.3" fill="#4c3e8a"/>
<text x="292.2" y="213.18" font-size="5.4" font-weight="normal" text-anchor="start" fill="#111" stroke="#111" stroke-width="0" textLength="14.9" lengthAdjust="spacingAndGlyphs">&gt;100K</text>
<text x="175.1" y="202.9" font-size="6.6" font-weight="bold" text-anchor="middle" fill="#111" stroke="#111" stroke-width="0.32" textLength="80.5" lengthAdjust="spacingAndGlyphs" transform="rotate(-90 175.1 202.9)">Relative Frequency (%)</text>
<text x="260.85" y="277.8" font-size="6.6" font-weight="bold" text-anchor="middle" fill="#111" stroke="#111" stroke-width="0.32" textLength="129.2" lengthAdjust="spacingAndGlyphs">H08-GM WTD Residual (sim - obs) [m]</text>
<line x1="355.5" y1="263.3" x2="494.6" y2="263.3" stroke="#e2e2e2" stroke-width="0.6" stroke-dasharray="1.7 0.7"/>
<line x1="355.5" y1="241.34" x2="494.6" y2="241.34" stroke="#e2e2e2" stroke-width="0.6" stroke-dasharray="1.7 0.7"/>
<line x1="355.5" y1="219.37" x2="494.6" y2="219.37" stroke="#e2e2e2" stroke-width="0.6" stroke-dasharray="1.7 0.7"/>
<line x1="355.5" y1="197.41" x2="494.6" y2="197.41" stroke="#e2e2e2" stroke-width="0.6" stroke-dasharray="1.7 0.7"/>
<line x1="355.5" y1="175.45" x2="494.6" y2="175.45" stroke="#e2e2e2" stroke-width="0.6" stroke-dasharray="1.7 0.7"/>
<line x1="355.5" y1="153.48" x2="494.6" y2="153.48" stroke="#e2e2e2" stroke-width="0.6" stroke-dasharray="1.7 0.7"/>
<line x1="362.3" y1="142.5" x2="362.3" y2="263.3" stroke="#e2e2e2" stroke-width="0.6" stroke-dasharray="1.7 0.7"/>
<line x1="383.3" y1="142.5" x2="383.3" y2="263.3" stroke="#e2e2e2" stroke-width="0.6" stroke-dasharray="1.7 0.7"/>
<line x1="404.3" y1="142.5" x2="404.3" y2="263.3" stroke="#e2e2e2" stroke-width="0.6" stroke-dasharray="1.7 0.7"/>
<line x1="425.3" y1="142.5" x2="425.3" y2="263.3" stroke="#e2e2e2" stroke-width="0.6" stroke-dasharray="1.7 0.7"/>
<line x1="446.3" y1="142.5" x2="446.3" y2="263.3" stroke="#e2e2e2" stroke-width="0.6" stroke-dasharray="1.7 0.7"/>
<line x1="467.3" y1="142.5" x2="467.3" y2="263.3" stroke="#e2e2e2" stroke-width="0.6" stroke-dasharray="1.7 0.7"/>
<line x1="488.3" y1="142.5" x2="488.3" y2="263.3" stroke="#e2e2e2" stroke-width="0.6" stroke-dasharray="1.7 0.7"/>
<path d="M379.68 263.3H384.02V263.08H379.68ZM384.02 263.3H388.37V262.86H384.02ZM388.37 263.3H392.71V262.42H388.37ZM392.71 263.3H397.06V261.65H392.71ZM397.06 263.3H401.4V260.88H397.06ZM401.4 263.3H405.75V259.79H401.4ZM405.75 263.3H410.09V258.36H405.75ZM410.09 263.3H414.44V257.26H410.09ZM414.44 263.3H418.78V251.22H414.44ZM418.78 263.3H423.13V227.06H418.78ZM423.13 263.3H427.47V153.48H423.13ZM427.47 263.3H431.82V183.57H427.47ZM431.82 263.3H436.16V199.61H431.82ZM436.16 263.3H440.51V213.88H436.16ZM440.51 263.3H444.85V223.99H440.51ZM444.85 263.3H449.2V229.81H444.85ZM449.2 263.3H453.54V236.61H449.2ZM453.54 263.3H457.89V242.43H453.54ZM457.89 263.3H462.23V247.05H457.89ZM462.23 263.3H466.58V251.55H462.23ZM466.58 263.3H470.92V254.51H466.58ZM470.92 263.3H475.27V257.26H470.92ZM475.27 263.3H479.61V258.36H475.27ZM479.61 263.3H483.96V259.9H479.61ZM483.96 263.3H488.3V260.55H483.96Z" fill="#fdf3f2"/>
<path d="M397.06 263.3H401.4V262.97H397.06ZM401.4 263.3H405.75V262.75H401.4ZM405.75 263.3H410.09V262.42H405.75ZM410.09 263.3H414.44V261.87H410.09ZM414.44 263.3H418.78V258.69H414.44ZM418.78 263.3H423.13V251.77H418.78ZM423.13 263.3H427.47V226.73H423.13ZM427.47 263.3H431.82V240.24H427.47ZM431.82 263.3H436.16V249.46H431.82ZM436.16 263.3H440.51V253.86H436.16ZM440.51 263.3H444.85V256.05H440.51ZM444.85 263.3H449.2V257.7H444.85ZM449.2 263.3H453.54V259.13H449.2ZM453.54 263.3H457.89V260.01H453.54ZM457.89 263.3H462.23V260.55H457.89ZM462.23 263.3H466.58V261.1H462.23ZM466.58 263.3H470.92V261.54H466.58ZM470.92 263.3H475.27V261.87H470.92ZM475.27 263.3H479.61V262.2H475.27ZM479.61 263.3H483.96V262.42H479.61ZM483.96 263.3H488.3V262.64H483.96Z" fill="#f0d3bd"/>
<path d="M410.09 263.3H414.44V262.97H410.09ZM414.44 263.3H418.78V262.2H414.44ZM418.78 263.3H423.13V260.23H418.78ZM423.13 263.3H427.47V251.77H423.13ZM427.47 263.3H431.82V255.5H427.47ZM431.82 263.3H436.16V259.24H431.82ZM436.16 263.3H440.51V260.77H436.16ZM440.51 263.3H444.85V261.54H440.51ZM444.85 263.3H449.2V262.09H444.85ZM449.2 263.3H453.54V262.42H449.2ZM453.54 263.3H457.89V262.64H453.54ZM457.89 263.3H462.23V262.86H457.89ZM462.23 263.3H466.58V262.97H462.23ZM466.58 263.3H470.92V262.97H466.58ZM470.92 263.3H475.27V263.08H470.92ZM475.27 263.3H479.61V263.08H475.27ZM479.61 263.3H483.96V263.19H479.61ZM483.96 263.3H488.3V263.19H483.96Z" fill="#cfc5ad"/>
<path d="M410.09 263.3H414.44V263.04H410.09ZM414.44 263.3H418.78V262.34H414.44ZM418.78 263.3H423.13V260.51H418.78ZM423.13 263.3H427.47V252.84H423.13ZM427.47 263.3H431.82V256.65H427.47ZM431.82 263.3H436.16V260.02H431.82ZM436.16 263.3H440.51V261.2H436.16ZM440.51 263.3H444.85V261.83H440.51ZM444.85 263.3H449.2V262.31H444.85ZM449.2 263.3H453.54V262.56H449.2ZM453.54 263.3H457.89V262.78H453.54ZM457.89 263.3H462.23V262.93H457.89ZM462.23 263.3H466.58V263.04H462.23ZM466.58 263.3H470.92V263.04H466.58ZM470.92 263.3H475.27V263.15H470.92ZM475.27 263.3H479.61V263.22H475.27ZM479.61 263.3H483.96V263.26H479.61ZM483.96 263.3H488.3V263.26H483.96Z" fill="#a4b6ac"/>
<path d="M410.09 263.3H414.44V263.08H410.09ZM414.44 263.3H418.78V262.42H414.44ZM418.78 263.3H423.13V260.66H418.78ZM423.13 263.3H427.47V253.42H423.13ZM427.47 263.3H431.82V257.26H427.47ZM431.82 263.3H436.16V260.44H431.82ZM436.16 263.3H440.51V261.43H436.16ZM440.51 263.3H444.85V261.98H440.51ZM444.85 263.3H449.2V262.42H444.85ZM449.2 263.3H453.54V262.64H449.2ZM453.54 263.3H457.89V262.86H453.54ZM457.89 263.3H462.23V262.97H457.89ZM462.23 263.3H466.58V263.08H462.23ZM466.58 263.3H470.92V263.08H466.58ZM470.92 263.3H475.27V263.19H470.92Z" fill="#7fa2aa"/>
<path d="M405.75 263.3H410.09V263.15H405.75ZM410.09 263.3H414.44V262.93H410.09ZM414.44 263.3H418.78V262.42H414.44ZM418.78 263.3H423.13V261.49H418.78ZM423.13 263.3H427.47V257.67H423.13ZM427.47 263.3H431.82V260.02H427.47ZM431.82 263.3H436.16V261.34H431.82ZM436.16 263.3H440.51V261.88H436.16ZM440.51 263.3H444.85V262.28H440.51ZM444.85 263.3H449.2V262.57H444.85ZM449.2 263.3H453.54V262.79H449.2ZM453.54 263.3H457.89V262.94H453.54ZM457.89 263.3H462.23V263.05H457.89ZM462.23 263.3H466.58V263.08H462.23ZM466.58 263.3H470.92V263.16H466.58ZM470.92 263.3H475.27V263.26H470.92Z" fill="#4e84ac"/>
<path d="M405.75 263.3H410.09V263.08H405.75ZM410.09 263.3H414.44V262.86H410.09ZM414.44 263.3H418.78V262.42H414.44ZM418.78 263.3H423.13V261.87H418.78ZM423.13 263.3H427.47V259.68H423.13ZM427.47 263.3H431.82V261.32H427.47ZM431.82 263.3H436.16V261.76H431.82ZM436.16 263.3H440.51V262.09H436.16ZM440.51 263.3H444.85V262.42H440.51ZM444.85 263.3H449.2V262.64H444.85ZM449.2 263.3H453.54V262.86H449.2ZM453.54 263.3H457.89V262.97H453.54ZM457.89 263.3H462.23V263.08H457.89ZM462.23 263.3H466.58V263.08H462.23ZM466.58 263.3H470.92V263.19H466.58Z" fill="#202e86"/>
<path d="M405.75 263.3H410.09V263.18H405.75ZM410.09 263.3H414.44V263.06H410.09ZM414.44 263.3H418.78V262.82H414.44ZM418.78 263.3H423.13V262.51H418.78ZM423.13 263.3H427.47V261.31H423.13ZM427.47 263.3H431.82V262.21H427.47ZM431.82 263.3H436.16V262.45H431.82ZM436.16 263.3H440.51V262.64H436.16ZM440.51 263.3H444.85V262.82H440.51ZM444.85 263.3H449.2V262.94H444.85ZM449.2 263.3H453.54V263.06H449.2ZM453.54 263.3H457.89V263.12H453.54ZM457.89 263.3H462.23V263.18H457.89ZM462.23 263.3H466.58V263.18H462.23ZM466.58 263.3H470.92V263.24H466.58Z" fill="#131870"/>
<g opacity="0.45">
<line x1="355.5" y1="241.34" x2="494.6" y2="241.34" stroke="#e2e2e2" stroke-width="0.6" stroke-dasharray="1.7 0.7"/>
<line x1="355.5" y1="219.37" x2="494.6" y2="219.37" stroke="#e2e2e2" stroke-width="0.6" stroke-dasharray="1.7 0.7"/>
<line x1="355.5" y1="197.41" x2="494.6" y2="197.41" stroke="#e2e2e2" stroke-width="0.6" stroke-dasharray="1.7 0.7"/>
<line x1="355.5" y1="175.45" x2="494.6" y2="175.45" stroke="#e2e2e2" stroke-width="0.6" stroke-dasharray="1.7 0.7"/>
<line x1="355.5" y1="153.48" x2="494.6" y2="153.48" stroke="#e2e2e2" stroke-width="0.6" stroke-dasharray="1.7 0.7"/>
<line x1="362.3" y1="142.5" x2="362.3" y2="263.3" stroke="#e2e2e2" stroke-width="0.6" stroke-dasharray="1.7 0.7"/>
<line x1="383.3" y1="142.5" x2="383.3" y2="263.3" stroke="#e2e2e2" stroke-width="0.6" stroke-dasharray="1.7 0.7"/>
<line x1="404.3" y1="142.5" x2="404.3" y2="263.3" stroke="#e2e2e2" stroke-width="0.6" stroke-dasharray="1.7 0.7"/>
<line x1="425.3" y1="142.5" x2="425.3" y2="263.3" stroke="#e2e2e2" stroke-width="0.6" stroke-dasharray="1.7 0.7"/>
<line x1="446.3" y1="142.5" x2="446.3" y2="263.3" stroke="#e2e2e2" stroke-width="0.6" stroke-dasharray="1.7 0.7"/>
<line x1="467.3" y1="142.5" x2="467.3" y2="263.3" stroke="#e2e2e2" stroke-width="0.6" stroke-dasharray="1.7 0.7"/>
<line x1="488.3" y1="142.5" x2="488.3" y2="263.3" stroke="#e2e2e2" stroke-width="0.6" stroke-dasharray="1.7 0.7"/>
</g>
<rect x="355.5" y="142.5" width="139.1" height="120.8" fill="none" stroke="#878787" stroke-width="1"/>
<line x1="354.2" y1="263.3" x2="355.5" y2="263.3" stroke="#444" stroke-width="0.6"/>
<text x="352.5" y="265.6" font-size="6.5" font-weight="bold" text-anchor="end" fill="#111" stroke="#111" stroke-width="0.32" textLength="3.28" lengthAdjust="spacingAndGlyphs">0</text>
<line x1="354.2" y1="241.34" x2="355.5" y2="241.34" stroke="#444" stroke-width="0.6"/>
<text x="352.5" y="243.64" font-size="6.5" font-weight="bold" text-anchor="end" fill="#111" stroke="#111" stroke-width="0.32" textLength="6.56" lengthAdjust="spacingAndGlyphs">20</text>
<line x1="354.2" y1="219.37" x2="355.5" y2="219.37" stroke="#444" stroke-width="0.6"/>
<text x="352.5" y="221.67" font-size="6.5" font-weight="bold" text-anchor="end" fill="#111" stroke="#111" stroke-width="0.32" textLength="6.56" lengthAdjust="spacingAndGlyphs">40</text>
<line x1="354.2" y1="197.41" x2="355.5" y2="197.41" stroke="#444" stroke-width="0.6"/>
<text x="352.5" y="199.71" font-size="6.5" font-weight="bold" text-anchor="end" fill="#111" stroke="#111" stroke-width="0.32" textLength="6.56" lengthAdjust="spacingAndGlyphs">60</text>
<line x1="354.2" y1="175.45" x2="355.5" y2="175.45" stroke="#444" stroke-width="0.6"/>
<text x="352.5" y="177.75" font-size="6.5" font-weight="bold" text-anchor="end" fill="#111" stroke="#111" stroke-width="0.32" textLength="6.56" lengthAdjust="spacingAndGlyphs">80</text>
<line x1="354.2" y1="153.48" x2="355.5" y2="153.48" stroke="#444" stroke-width="0.6"/>
<text x="352.5" y="155.78" font-size="6.5" font-weight="bold" text-anchor="end" fill="#111" stroke="#111" stroke-width="0.32" textLength="9.84" lengthAdjust="spacingAndGlyphs">100</text>
<line x1="362.3" y1="263.3" x2="362.3" y2="264.5" stroke="#444" stroke-width="0.6"/>
<text x="362.3" y="270.3" font-size="5.7" font-weight="bold" text-anchor="middle" fill="#111" stroke="#111" stroke-width="0.32" textLength="14.27" lengthAdjust="spacingAndGlyphs">−150</text>
<line x1="383.3" y1="263.3" x2="383.3" y2="264.5" stroke="#444" stroke-width="0.6"/>
<text x="383.3" y="270.3" font-size="5.7" font-weight="bold" text-anchor="middle" fill="#111" stroke="#111" stroke-width="0.32" textLength="14.27" lengthAdjust="spacingAndGlyphs">−100</text>
<line x1="404.3" y1="263.3" x2="404.3" y2="264.5" stroke="#444" stroke-width="0.6"/>
<text x="404.3" y="270.3" font-size="5.7" font-weight="bold" text-anchor="middle" fill="#111" stroke="#111" stroke-width="0.32" textLength="10.99" lengthAdjust="spacingAndGlyphs">−50</text>
<line x1="425.3" y1="263.3" x2="425.3" y2="264.5" stroke="#444" stroke-width="0.6"/>
<text x="425.3" y="270.3" font-size="5.7" font-weight="bold" text-anchor="middle" fill="#111" stroke="#111" stroke-width="0.32" textLength="3.28" lengthAdjust="spacingAndGlyphs">0</text>
<line x1="446.3" y1="263.3" x2="446.3" y2="264.5" stroke="#444" stroke-width="0.6"/>
<text x="446.3" y="270.3" font-size="5.7" font-weight="bold" text-anchor="middle" fill="#111" stroke="#111" stroke-width="0.32" textLength="6.56" lengthAdjust="spacingAndGlyphs">50</text>
<line x1="467.3" y1="263.3" x2="467.3" y2="264.5" stroke="#444" stroke-width="0.6"/>
<text x="467.3" y="270.3" font-size="5.7" font-weight="bold" text-anchor="middle" fill="#111" stroke="#111" stroke-width="0.32" textLength="9.84" lengthAdjust="spacingAndGlyphs">100</text>
<line x1="488.3" y1="263.3" x2="488.3" y2="264.5" stroke="#444" stroke-width="0.6"/>
<text x="488.3" y="270.3" font-size="5.7" font-weight="bold" text-anchor="middle" fill="#111" stroke="#111" stroke-width="0.32" textLength="9.84" lengthAdjust="spacingAndGlyphs">150</text>
<text x="358.3" y="151.1" font-size="7" font-weight="bold" text-anchor="start" fill="#111" stroke="#111" stroke-width="0.32" textLength="10.6" lengthAdjust="spacingAndGlyphs">(f)</text>
<text x="490" y="150.8" font-size="6.3" font-weight="bold" text-anchor="end" fill="#111" stroke="#111" stroke-width="0.32" textLength="56.2" lengthAdjust="spacingAndGlyphs">Population Density</text>
<rect x="443.5" y="154.9" width="9.9" height="3.3" fill="#fbeaea"/>
<text x="456.6" y="158.3" font-size="5.4" font-weight="normal" text-anchor="start" fill="#111" stroke="#111" stroke-width="0" textLength="11" lengthAdjust="spacingAndGlyphs">1-1K</text>
<rect x="443.5" y="161.76" width="9.9" height="3.3" fill="#f1d6c3"/>
<text x="456.6" y="165.16" font-size="5.4" font-weight="normal" text-anchor="start" fill="#111" stroke="#111" stroke-width="0" textLength="15.5" lengthAdjust="spacingAndGlyphs">1K-5K</text>
<rect x="443.5" y="168.62" width="9.9" height="3.3" fill="#c9c2aa"/>
<text x="456.6" y="172.02" font-size="5.4" font-weight="normal" text-anchor="start" fill="#111" stroke="#111" stroke-width="0" textLength="18" lengthAdjust="spacingAndGlyphs">5K-10K</text>
<rect x="443.5" y="175.48" width="9.9" height="3.3" fill="#a6bab4"/>
<text x="456.6" y="178.88" font-size="5.4" font-weight="normal" text-anchor="start" fill="#111" stroke="#111" stroke-width="0" textLength="19.6" lengthAdjust="spacingAndGlyphs">10K-20K</text>
<rect x="443.5" y="182.34" width="9.9" height="3.3" fill="#93b5c8"/>
<text x="456.6" y="185.74" font-size="5.4" font-weight="normal" text-anchor="start" fill="#111" stroke="#111" stroke-width="0" textLength="19.6" lengthAdjust="spacingAndGlyphs">20K-40K</text>
<rect x="443.5" y="189.2" width="9.9" height="3.3" fill="#7ca2c8"/>
<text x="456.6" y="192.6" font-size="5.4" font-weight="normal" text-anchor="start" fill="#111" stroke="#111" stroke-width="0" textLength="19.6" lengthAdjust="spacingAndGlyphs">40K-60K</text>
<rect x="443.5" y="196.06" width="9.9" height="3.3" fill="#6a88bc"/>
<text x="456.6" y="199.46" font-size="5.4" font-weight="normal" text-anchor="start" fill="#111" stroke="#111" stroke-width="0" textLength="19.6" lengthAdjust="spacingAndGlyphs">60K-80K</text>
<rect x="443.5" y="202.92" width="9.9" height="3.3" fill="#5c67a8"/>
<text x="456.6" y="206.32" font-size="5.4" font-weight="normal" text-anchor="start" fill="#111" stroke="#111" stroke-width="0" textLength="22.6" lengthAdjust="spacingAndGlyphs">80K-100K</text>
<rect x="443.5" y="209.78" width="9.9" height="3.3" fill="#4c3e8a"/>
<text x="456.6" y="213.18" font-size="5.4" font-weight="normal" text-anchor="start" fill="#111" stroke="#111" stroke-width="0" textLength="14.9" lengthAdjust="spacingAndGlyphs">&gt;100K</text>
<text x="339.5" y="202.9" font-size="6.6" font-weight="bold" text-anchor="middle" fill="#111" stroke="#111" stroke-width="0.32" textLength="80.5" lengthAdjust="spacingAndGlyphs" transform="rotate(-90 339.5 202.9)">Relative Frequency (%)</text>
<text x="425.25" y="277.8" font-size="6.6" font-weight="bold" text-anchor="middle" fill="#111" stroke="#111" stroke-width="0.32" textLength="117.2" lengthAdjust="spacingAndGlyphs">Ensemble Residual (sim - obs) [m]</text>
</svg></body></html>
